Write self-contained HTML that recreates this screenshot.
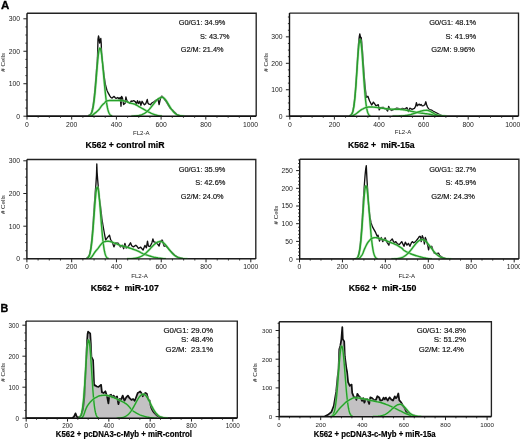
<!DOCTYPE html>
<html><head><meta charset="utf-8"><style>
html,body{margin:0;padding:0;background:#fff;}
svg{display:block;font-family:"Liberation Sans", sans-serif;will-change:transform;}
</style></head><body>
<svg width="520" height="439" viewBox="0 0 520 439">
<rect width="520" height="439" fill="#fff"/>
<clipPath id="clip1"><rect x="27" y="13.2" width="229.2" height="103"/></clipPath>
<g clip-path="url(#clip1)">
<polyline points="27,116.2 88,116.2 89.5,114.85 89.9,114.61 90.3,114.28 90.7,113.83 91.1,113.24 91.5,112.46 91.9,111.09 92.3,109.45 92.7,107.5 93.1,105.22 93.5,102.55 93.9,99.47 94.3,95.98 94.7,92.08 95.1,87.78 95.5,83.12 95.9,78.16 96.3,72.98 96.7,67.69 97.1,62.45 97.5,57.41 98,39 98.5,36 99,38 99.6,43 100.2,40 100.8,38.5 101.2,43 101.5,51 102.1,58 102.8,65 103.5,70.5 104.4,78 105.6,85.5 107,90.5 108.3,93.2 109.8,95.8 110.9,97.5 112.1,98.1 113.2,97 114.1,96.4 115,97.5 116.1,98.4 117.8,97.5 119,99 120.2,97.5 121,106.2 121.6,96.4 122.5,98.1 123.6,104.5 125.1,103.3 125.9,97 126.8,100.4 128.2,102.2 129.7,103.3 131.1,101 132,101.3 133.7,100.7 135.5,101.8 136.3,104.7 137.5,100.7 138.6,103.6 139.8,101.3 140.9,105.3 142.1,101.3 143.5,103.6 144.4,104.7 145.8,103.6 147.3,99.5 147.9,103 149,104.2 150.5,104.7 151.9,103 153.9,101.8 156.2,100.1 158,99 159.1,104.5 160.3,99 161.4,96.6 162,96.1 163.3,97.7 164.6,99.6 166.5,102.1 168.4,105.3 170.3,108.5 172.2,109.8 174.1,111.7 176.7,114.3 179.3,115.5 181.5,116.2 256,116.2" fill="none" stroke="#111" stroke-width="1.35" stroke-linejoin="round"/>
<polyline points="88.51,115.99 88.81,115.92 89.11,115.82 89.41,115.69 89.71,115.53 90.01,115.33 90.31,115.07 90.61,114.74 90.91,114.34 91.21,113.84 91.51,113.24 91.81,112.51 92.11,111.63 92.41,110.6 92.71,109.38 93.01,107.97 93.31,106.35 93.61,104.5 93.91,102.41 94.21,100.08 94.51,97.51 94.81,94.7 95.11,91.66 95.41,88.42 95.71,85 96.01,81.45 96.31,77.79 96.61,74.09 96.91,70.41 97.21,66.79 97.51,63.32 97.81,60.06 98.11,57.07 98.41,54.42 98.71,52.17 99.01,50.36 99.31,49.05 99.61,48.26 99.91,48 100.21,48.24 100.51,48.92 100.81,50.03 101.11,51.55 101.41,53.45 101.71,55.69 102.01,58.23 102.31,61.04 102.61,64.05 102.91,67.21 103.21,70.49 103.51,73.83 103.81,77.18 104.11,80.5 104.41,83.75 104.71,86.9 105.01,89.92 105.31,92.78 105.61,95.47 105.91,97.97 106.21,100.27 106.51,102.37 106.81,104.28 107.11,105.99 107.41,107.51 107.71,108.85 108.01,110.03 108.31,111.05 108.61,111.93 108.91,112.68 109.21,113.32 109.51,113.86 109.81,114.31 110.11,114.69 110.41,114.99 110.71,115.24 111.01,115.45 111.31,115.61 111.61,115.74 111.91,115.85 112.21,115.93" fill="none" stroke="#9fe29f" stroke-width="2.6500000000000004" stroke-opacity="0.55" stroke-linejoin="round"/>
<polyline points="88.51,115.99 88.81,115.92 89.11,115.82 89.41,115.69 89.71,115.53 90.01,115.33 90.31,115.07 90.61,114.74 90.91,114.34 91.21,113.84 91.51,113.24 91.81,112.51 92.11,111.63 92.41,110.6 92.71,109.38 93.01,107.97 93.31,106.35 93.61,104.5 93.91,102.41 94.21,100.08 94.51,97.51 94.81,94.7 95.11,91.66 95.41,88.42 95.71,85 96.01,81.45 96.31,77.79 96.61,74.09 96.91,70.41 97.21,66.79 97.51,63.32 97.81,60.06 98.11,57.07 98.41,54.42 98.71,52.17 99.01,50.36 99.31,49.05 99.61,48.26 99.91,48 100.21,48.24 100.51,48.92 100.81,50.03 101.11,51.55 101.41,53.45 101.71,55.69 102.01,58.23 102.31,61.04 102.61,64.05 102.91,67.21 103.21,70.49 103.51,73.83 103.81,77.18 104.11,80.5 104.41,83.75 104.71,86.9 105.01,89.92 105.31,92.78 105.61,95.47 105.91,97.97 106.21,100.27 106.51,102.37 106.81,104.28 107.11,105.99 107.41,107.51 107.71,108.85 108.01,110.03 108.31,111.05 108.61,111.93 108.91,112.68 109.21,113.32 109.51,113.86 109.81,114.31 110.11,114.69 110.41,114.99 110.71,115.24 111.01,115.45 111.31,115.61 111.61,115.74 111.91,115.85 112.21,115.93" fill="none" stroke="#26a02a" stroke-width="1.4" stroke-linejoin="round"/>
<polyline points="91.5,116.2 91.69,116.02 91.95,115.78 92.25,115.5 92.59,115.18 92.95,114.85 93.31,114.51 93.67,114.19 94,113.9 94.32,113.63 94.64,113.37 94.97,113.12 95.29,112.87 95.62,112.62 95.95,112.36 96.27,112.09 96.6,111.8 96.92,111.51 97.25,111.21 97.57,110.91 97.89,110.6 98.22,110.28 98.54,109.94 98.87,109.58 99.2,109.2 99.53,108.78 99.87,108.33 100.21,107.84 100.55,107.35 100.89,106.86 101.23,106.37 101.57,105.92 101.9,105.5 102.24,105.12 102.58,104.75 102.93,104.4 103.28,104.07 103.61,103.75 103.93,103.45 104.23,103.17 104.5,102.9 104.74,102.64 104.95,102.4 105.14,102.18 105.31,101.97 105.48,101.78 105.64,101.6 105.82,101.44 106,101.3 106.19,101.18 106.38,101.09 106.57,101.02 106.76,100.97 106.96,100.92 107.16,100.89 107.38,100.85 107.6,100.8 107.82,100.75 108.04,100.7 108.25,100.66 108.48,100.62 108.73,100.58 109.01,100.55 109.33,100.52 109.7,100.5 110.11,100.49 110.55,100.48 111.02,100.48 111.53,100.48 112.07,100.49 112.66,100.49 113.3,100.5 114,100.5 114.79,100.49 115.67,100.48 116.63,100.46 117.62,100.44 118.62,100.43 119.59,100.43 120.49,100.45 121.3,100.5 122.02,100.57 122.67,100.67 123.28,100.78 123.86,100.91 124.4,101.04 124.94,101.19 125.46,101.34 126,101.5 126.53,101.67 127.05,101.85 127.55,102.05 128.04,102.25 128.53,102.45 129.02,102.65 129.5,102.83 130,103 130.5,103.14 131,103.26 131.5,103.37 132,103.47 132.5,103.57 133,103.69 133.5,103.83 134,104 134.5,104.2 135,104.42 135.5,104.66 136,104.92 136.5,105.18 137,105.46 137.5,105.73 138,106 138.49,106.27 138.98,106.54 139.46,106.82 139.94,107.1 140.43,107.39 140.93,107.68 141.45,107.99 142,108.3 142.58,108.63 143.18,108.97 143.8,109.33 144.44,109.69 145.08,110.05 145.73,110.41 146.37,110.76 147,111.1 147.62,111.43 148.25,111.76 148.88,112.09 149.5,112.42 150.12,112.73 150.75,113.04 151.38,113.33 152,113.6 152.62,113.86 153.25,114.1 153.88,114.33 154.5,114.55 155.12,114.76 155.75,114.95 156.38,115.13 157,115.3 157.66,115.46 158.37,115.6 159.09,115.74 159.81,115.86 160.49,115.96 161.1,116.06 161.61,116.14 162,116.2" fill="none" stroke="#9fe29f" stroke-width="2.6500000000000004" stroke-opacity="0.55" stroke-linejoin="round"/>
<polyline points="91.5,116.2 91.69,116.02 91.95,115.78 92.25,115.5 92.59,115.18 92.95,114.85 93.31,114.51 93.67,114.19 94,113.9 94.32,113.63 94.64,113.37 94.97,113.12 95.29,112.87 95.62,112.62 95.95,112.36 96.27,112.09 96.6,111.8 96.92,111.51 97.25,111.21 97.57,110.91 97.89,110.6 98.22,110.28 98.54,109.94 98.87,109.58 99.2,109.2 99.53,108.78 99.87,108.33 100.21,107.84 100.55,107.35 100.89,106.86 101.23,106.37 101.57,105.92 101.9,105.5 102.24,105.12 102.58,104.75 102.93,104.4 103.28,104.07 103.61,103.75 103.93,103.45 104.23,103.17 104.5,102.9 104.74,102.64 104.95,102.4 105.14,102.18 105.31,101.97 105.48,101.78 105.64,101.6 105.82,101.44 106,101.3 106.19,101.18 106.38,101.09 106.57,101.02 106.76,100.97 106.96,100.92 107.16,100.89 107.38,100.85 107.6,100.8 107.82,100.75 108.04,100.7 108.25,100.66 108.48,100.62 108.73,100.58 109.01,100.55 109.33,100.52 109.7,100.5 110.11,100.49 110.55,100.48 111.02,100.48 111.53,100.48 112.07,100.49 112.66,100.49 113.3,100.5 114,100.5 114.79,100.49 115.67,100.48 116.63,100.46 117.62,100.44 118.62,100.43 119.59,100.43 120.49,100.45 121.3,100.5 122.02,100.57 122.67,100.67 123.28,100.78 123.86,100.91 124.4,101.04 124.94,101.19 125.46,101.34 126,101.5 126.53,101.67 127.05,101.85 127.55,102.05 128.04,102.25 128.53,102.45 129.02,102.65 129.5,102.83 130,103 130.5,103.14 131,103.26 131.5,103.37 132,103.47 132.5,103.57 133,103.69 133.5,103.83 134,104 134.5,104.2 135,104.42 135.5,104.66 136,104.92 136.5,105.18 137,105.46 137.5,105.73 138,106 138.49,106.27 138.98,106.54 139.46,106.82 139.94,107.1 140.43,107.39 140.93,107.68 141.45,107.99 142,108.3 142.58,108.63 143.18,108.97 143.8,109.33 144.44,109.69 145.08,110.05 145.73,110.41 146.37,110.76 147,111.1 147.62,111.43 148.25,111.76 148.88,112.09 149.5,112.42 150.12,112.73 150.75,113.04 151.38,113.33 152,113.6 152.62,113.86 153.25,114.1 153.88,114.33 154.5,114.55 155.12,114.76 155.75,114.95 156.38,115.13 157,115.3 157.66,115.46 158.37,115.6 159.09,115.74 159.81,115.86 160.49,115.96 161.1,116.06 161.61,116.14 162,116.2" fill="none" stroke="#26a02a" stroke-width="1.4" stroke-linejoin="round"/>
<polyline points="131.4,116.14 131.9,116.13 132.4,116.12 132.9,116.1 133.4,116.08 133.9,116.06 134.4,116.03 134.9,116 135.4,115.96 135.9,115.92 136.4,115.87 136.9,115.81 137.4,115.75 137.9,115.68 138.4,115.59 138.9,115.5 139.4,115.39 139.9,115.27 140.4,115.14 140.9,114.99 141.4,114.82 141.9,114.64 142.4,114.44 142.9,114.21 143.4,113.97 143.9,113.7 144.4,113.41 144.9,113.09 145.4,112.75 145.9,112.38 146.4,111.99 146.9,111.57 147.4,111.13 147.9,110.66 148.4,110.17 148.9,109.65 149.4,109.11 149.9,108.54 150.4,107.96 150.9,107.37 151.4,106.75 151.9,106.13 152.4,105.5 152.9,104.86 153.4,104.23 153.9,103.59 154.4,102.97 154.9,102.35 155.4,101.76 155.9,101.18 156.4,100.63 156.9,100.1 157.4,99.61 157.9,99.16 158.4,98.75 158.9,98.39 159.4,98.07 159.9,97.81 160.4,97.6 160.9,97.44 161.4,97.34 161.9,97.3 162.4,97.33 162.9,97.47 163.4,97.71 163.9,98.04 164.4,98.47 164.9,98.99 165.4,99.58 165.9,100.25 166.4,100.97 166.9,101.74 167.4,102.54 167.9,103.37 168.4,104.22 168.9,105.08 169.4,105.93 169.9,106.77 170.4,107.59 170.9,108.38 171.4,109.14 171.9,109.86 172.4,110.53 172.9,111.17 173.4,111.76 173.9,112.3 174.4,112.79 174.9,113.24 175.4,113.64 175.9,114 176.4,114.32 176.9,114.61 177.4,114.85 177.9,115.07 178.4,115.26 178.9,115.41 179.4,115.55 179.9,115.67 180.4,115.76 180.9,115.85 181.4,115.91 181.9,115.97 182.4,116.02 182.9,116.05 183.4,116.08 183.9,116.11 184.4,116.13" fill="none" stroke="#9fe29f" stroke-width="2.6500000000000004" stroke-opacity="0.55" stroke-linejoin="round"/>
<polyline points="131.4,116.14 131.9,116.13 132.4,116.12 132.9,116.1 133.4,116.08 133.9,116.06 134.4,116.03 134.9,116 135.4,115.96 135.9,115.92 136.4,115.87 136.9,115.81 137.4,115.75 137.9,115.68 138.4,115.59 138.9,115.5 139.4,115.39 139.9,115.27 140.4,115.14 140.9,114.99 141.4,114.82 141.9,114.64 142.4,114.44 142.9,114.21 143.4,113.97 143.9,113.7 144.4,113.41 144.9,113.09 145.4,112.75 145.9,112.38 146.4,111.99 146.9,111.57 147.4,111.13 147.9,110.66 148.4,110.17 148.9,109.65 149.4,109.11 149.9,108.54 150.4,107.96 150.9,107.37 151.4,106.75 151.9,106.13 152.4,105.5 152.9,104.86 153.4,104.23 153.9,103.59 154.4,102.97 154.9,102.35 155.4,101.76 155.9,101.18 156.4,100.63 156.9,100.1 157.4,99.61 157.9,99.16 158.4,98.75 158.9,98.39 159.4,98.07 159.9,97.81 160.4,97.6 160.9,97.44 161.4,97.34 161.9,97.3 162.4,97.33 162.9,97.47 163.4,97.71 163.9,98.04 164.4,98.47 164.9,98.99 165.4,99.58 165.9,100.25 166.4,100.97 166.9,101.74 167.4,102.54 167.9,103.37 168.4,104.22 168.9,105.08 169.4,105.93 169.9,106.77 170.4,107.59 170.9,108.38 171.4,109.14 171.9,109.86 172.4,110.53 172.9,111.17 173.4,111.76 173.9,112.3 174.4,112.79 174.9,113.24 175.4,113.64 175.9,114 176.4,114.32 176.9,114.61 177.4,114.85 177.9,115.07 178.4,115.26 178.9,115.41 179.4,115.55 179.9,115.67 180.4,115.76 180.9,115.85 181.4,115.91 181.9,115.97 182.4,116.02 182.9,116.05 183.4,116.08 183.9,116.11 184.4,116.13" fill="none" stroke="#26a02a" stroke-width="1.4" stroke-linejoin="round"/>
</g>
<path d="M27,13.2 H256.2 V116.2" fill="none" stroke="#222" stroke-width="1.35"/>
<path d="M27,13.2 V116.2 H256.2" fill="none" stroke="#111" stroke-width="1.4"/>
<line x1="23.4" y1="116.2" x2="27" y2="116.2" stroke="#222" stroke-width="1"/>
<line x1="25.4" y1="108.08" x2="27" y2="108.08" stroke="#222" stroke-width="0.9"/>
<line x1="25.4" y1="99.97" x2="27" y2="99.97" stroke="#222" stroke-width="0.9"/>
<line x1="25.4" y1="91.85" x2="27" y2="91.85" stroke="#222" stroke-width="0.9"/>
<line x1="23.4" y1="83.73" x2="27" y2="83.73" stroke="#222" stroke-width="1"/>
<line x1="25.4" y1="75.61" x2="27" y2="75.61" stroke="#222" stroke-width="0.9"/>
<line x1="25.4" y1="67.5" x2="27" y2="67.5" stroke="#222" stroke-width="0.9"/>
<line x1="25.4" y1="59.38" x2="27" y2="59.38" stroke="#222" stroke-width="0.9"/>
<line x1="23.4" y1="51.26" x2="27" y2="51.26" stroke="#222" stroke-width="1"/>
<line x1="25.4" y1="43.14" x2="27" y2="43.14" stroke="#222" stroke-width="0.9"/>
<line x1="25.4" y1="35.03" x2="27" y2="35.03" stroke="#222" stroke-width="0.9"/>
<line x1="25.4" y1="26.91" x2="27" y2="26.91" stroke="#222" stroke-width="0.9"/>
<line x1="23.4" y1="18.79" x2="27" y2="18.79" stroke="#222" stroke-width="1"/>
<text x="20.1" y="118.6" font-size="6.8" text-anchor="end" fill="#222">0</text>
<text x="20.1" y="86.13" font-size="6.8" text-anchor="end" fill="#222">100</text>
<text x="20.1" y="53.66" font-size="6.8" text-anchor="end" fill="#222">200</text>
<text x="20.1" y="21.19" font-size="6.8" text-anchor="end" fill="#222">300</text>
<line x1="27" y1="116.2" x2="27" y2="119.6" stroke="#222" stroke-width="1"/>
<text x="27" y="127.1" font-size="6.8" text-anchor="middle" fill="#222">0</text>
<line x1="38.17" y1="116.2" x2="38.17" y2="117.8" stroke="#222" stroke-width="0.9"/>
<line x1="49.35" y1="116.2" x2="49.35" y2="117.8" stroke="#222" stroke-width="0.9"/>
<line x1="60.52" y1="116.2" x2="60.52" y2="117.8" stroke="#222" stroke-width="0.9"/>
<line x1="71.7" y1="116.2" x2="71.7" y2="119.6" stroke="#222" stroke-width="1"/>
<text x="71.7" y="127.1" font-size="6.8" text-anchor="middle" fill="#222">200</text>
<line x1="82.88" y1="116.2" x2="82.88" y2="117.8" stroke="#222" stroke-width="0.9"/>
<line x1="94.05" y1="116.2" x2="94.05" y2="117.8" stroke="#222" stroke-width="0.9"/>
<line x1="105.22" y1="116.2" x2="105.22" y2="117.8" stroke="#222" stroke-width="0.9"/>
<line x1="116.4" y1="116.2" x2="116.4" y2="119.6" stroke="#222" stroke-width="1"/>
<text x="116.4" y="127.1" font-size="6.8" text-anchor="middle" fill="#222">400</text>
<line x1="127.58" y1="116.2" x2="127.58" y2="117.8" stroke="#222" stroke-width="0.9"/>
<line x1="138.75" y1="116.2" x2="138.75" y2="117.8" stroke="#222" stroke-width="0.9"/>
<line x1="149.93" y1="116.2" x2="149.93" y2="117.8" stroke="#222" stroke-width="0.9"/>
<line x1="161.1" y1="116.2" x2="161.1" y2="119.6" stroke="#222" stroke-width="1"/>
<text x="161.1" y="127.1" font-size="6.8" text-anchor="middle" fill="#222">600</text>
<line x1="172.28" y1="116.2" x2="172.28" y2="117.8" stroke="#222" stroke-width="0.9"/>
<line x1="183.45" y1="116.2" x2="183.45" y2="117.8" stroke="#222" stroke-width="0.9"/>
<line x1="194.62" y1="116.2" x2="194.62" y2="117.8" stroke="#222" stroke-width="0.9"/>
<line x1="205.8" y1="116.2" x2="205.8" y2="119.6" stroke="#222" stroke-width="1"/>
<text x="205.8" y="127.1" font-size="6.8" text-anchor="middle" fill="#222">800</text>
<line x1="216.97" y1="116.2" x2="216.97" y2="117.8" stroke="#222" stroke-width="0.9"/>
<line x1="228.15" y1="116.2" x2="228.15" y2="117.8" stroke="#222" stroke-width="0.9"/>
<line x1="239.32" y1="116.2" x2="239.32" y2="117.8" stroke="#222" stroke-width="0.9"/>
<line x1="250.5" y1="116.2" x2="250.5" y2="119.6" stroke="#222" stroke-width="1"/>
<text x="250.5" y="127.1" font-size="6.8" text-anchor="middle" fill="#222">1000</text>
<text x="178.7" y="25" font-size="8" textLength="46.7" lengthAdjust="spacingAndGlyphs" fill="#111" stroke="#111" stroke-width="0.18" xml:space="preserve" style="white-space:pre">G0/G1: 34.9%</text>
<text x="200" y="38.5" font-size="8" textLength="29.6" lengthAdjust="spacingAndGlyphs" fill="#111" stroke="#111" stroke-width="0.18" xml:space="preserve" style="white-space:pre">S: 43.7%</text>
<text x="180.8" y="51.7" font-size="8" textLength="42.7" lengthAdjust="spacingAndGlyphs" fill="#111" stroke="#111" stroke-width="0.18" xml:space="preserve" style="white-space:pre">G2/M: 21.4%</text>
<text x="85.4" y="147.5" font-size="8.8" font-weight="bold" textLength="79.2" lengthAdjust="spacingAndGlyphs" fill="#000" stroke="#000" stroke-width="0.2" xml:space="preserve" style="white-space:pre">K562 + control miR</text>
<text x="141.3" y="135.1" font-size="6.1" text-anchor="middle" fill="#222">FL2-A</text>
<text transform="translate(5.1,62.3) rotate(-90)" font-size="6.2" text-anchor="middle" fill="#222"><tspan font-weight="bold">#</tspan> Cells</text>
<clipPath id="clip2"><rect x="289.5" y="13.1" width="229" height="103.1"/></clipPath>
<g clip-path="url(#clip2)">
<polyline points="290,116.2 349,116.2 350.5,115.16 350.9,114.89 351.3,114.51 351.7,113.97 352.1,113.18 352.5,111.97 352.9,110.46 353.3,108.57 353.7,106.24 354.1,103.42 354.5,100.04 354.9,96.08 355.3,91.53 355.7,86.41 356.1,80.77 356.5,74.72 356.9,68.39 357.3,61.98 357.7,55.71 358.1,49.79 358.5,44.48 358.9,40.01 359.3,36.57 359.8,34 360.3,36.5 360.8,42.5 361.2,37.52 361.6,41.08 362,45.51 362.4,50.61 362.8,56.16 363.2,61.93 363.6,67.7 364,73.29 364.4,78.54 364.8,83.35 365.2,87.66 365.6,91.43 366,94.66 366.4,97.36 367.9,96.3 369.5,100.7 371.7,105 373.4,102.1 374.9,104.1 376,105.8 378.3,104.7 379.2,109.9 380.7,107.6 383,107.3 384.7,108.7 386.4,109.3 387.6,111 388.7,106.4 389.9,109.3 391.6,110.5 393.9,109.3 396.8,108.2 399.1,108.7 400.2,109.3 402.3,108.4 404.6,109 406.9,107.6 408.4,111.6 409.8,108.2 412.1,109.3 414.4,108.4 415.6,106.4 416.4,102.7 417.3,105.8 419.3,104.1 420.2,105.3 421.1,104.4 422.2,105.8 423.7,105.6 424.8,104.7 425.8,101.8 426.6,104.7 427.5,107 428.7,109 430.1,109.6 431.5,110.1 433.3,111.3 435,112.2 437.3,113.3 439.6,114.5 441.9,115.6 444.2,116 446,116.2 518,116.2" fill="none" stroke="#111" stroke-width="1.35" stroke-linejoin="round"/>
<polyline points="349.73,115.96 350.03,115.87 350.33,115.75 350.63,115.58 350.93,115.36 351.23,115.08 351.53,114.72 351.83,114.26 352.13,113.68 352.43,112.95 352.73,112.06 353.03,110.98 353.33,109.67 353.63,108.12 353.93,106.29 354.23,104.16 354.53,101.73 354.83,98.96 355.13,95.87 355.43,92.45 355.73,88.72 356.03,84.71 356.33,80.47 356.63,76.05 356.93,71.51 357.23,66.94 357.53,62.42 357.83,58.06 358.13,53.94 358.43,50.18 358.73,46.86 359.03,44.08 359.33,41.91 359.63,40.41 359.93,39.62 360.23,39.57 360.53,40.23 360.83,41.6 361.13,43.62 361.43,46.24 361.73,49.4 362.03,53.01 362.33,56.99 362.63,61.23 362.93,65.64 363.23,70.13 363.53,74.61 363.83,79.01 364.13,83.25 364.43,87.28 364.73,91.06 365.03,94.54 365.33,97.72 365.63,100.58 365.93,103.11 366.23,105.34 366.53,107.28 366.83,108.93 367.13,110.34 367.43,111.51 367.73,112.49 368.03,113.29 368.33,113.94 368.63,114.46 368.93,114.87 369.23,115.2 369.53,115.45 369.83,115.64 370.13,115.79 370.43,115.9" fill="none" stroke="#9fe29f" stroke-width="2.6500000000000004" stroke-opacity="0.55" stroke-linejoin="round"/>
<polyline points="349.73,115.96 350.03,115.87 350.33,115.75 350.63,115.58 350.93,115.36 351.23,115.08 351.53,114.72 351.83,114.26 352.13,113.68 352.43,112.95 352.73,112.06 353.03,110.98 353.33,109.67 353.63,108.12 353.93,106.29 354.23,104.16 354.53,101.73 354.83,98.96 355.13,95.87 355.43,92.45 355.73,88.72 356.03,84.71 356.33,80.47 356.63,76.05 356.93,71.51 357.23,66.94 357.53,62.42 357.83,58.06 358.13,53.94 358.43,50.18 358.73,46.86 359.03,44.08 359.33,41.91 359.63,40.41 359.93,39.62 360.23,39.57 360.53,40.23 360.83,41.6 361.13,43.62 361.43,46.24 361.73,49.4 362.03,53.01 362.33,56.99 362.63,61.23 362.93,65.64 363.23,70.13 363.53,74.61 363.83,79.01 364.13,83.25 364.43,87.28 364.73,91.06 365.03,94.54 365.33,97.72 365.63,100.58 365.93,103.11 366.23,105.34 366.53,107.28 366.83,108.93 367.13,110.34 367.43,111.51 367.73,112.49 368.03,113.29 368.33,113.94 368.63,114.46 368.93,114.87 369.23,115.2 369.53,115.45 369.83,115.64 370.13,115.79 370.43,115.9" fill="none" stroke="#26a02a" stroke-width="1.4" stroke-linejoin="round"/>
<polyline points="352,116.2 352.31,116.02 352.71,115.79 353.2,115.52 353.74,115.21 354.31,114.87 354.89,114.52 355.46,114.16 356,113.8 356.52,113.42 357.06,113.01 357.6,112.57 358.14,112.12 358.68,111.67 359.21,111.25 359.72,110.85 360.2,110.5 360.66,110.19 361.09,109.91 361.5,109.66 361.91,109.43 362.3,109.21 362.7,109 363.09,108.8 363.5,108.6 363.9,108.4 364.28,108.21 364.65,108.02 365.03,107.85 365.42,107.69 365.84,107.54 366.3,107.41 366.8,107.3 367.35,107.21 367.95,107.13 368.58,107.07 369.24,107.03 369.92,107 370.61,106.99 371.31,106.99 372,107 372.7,107.03 373.41,107.08 374.14,107.15 374.87,107.23 375.61,107.32 376.34,107.41 377.08,107.51 377.8,107.6 378.52,107.69 379.23,107.79 379.94,107.89 380.65,108 381.36,108.11 382.07,108.21 382.78,108.31 383.5,108.4 384.22,108.49 384.95,108.57 385.67,108.65 386.4,108.73 387.13,108.81 387.85,108.88 388.58,108.94 389.3,109 390.02,109.05 390.75,109.1 391.48,109.14 392.2,109.18 392.92,109.22 393.63,109.25 394.32,109.27 395,109.3 395.66,109.32 396.3,109.33 396.93,109.33 397.54,109.33 398.16,109.33 398.77,109.34 399.38,109.36 400,109.4 400.63,109.45 401.26,109.51 401.89,109.58 402.53,109.65 403.15,109.73 403.78,109.82 404.39,109.91 405,110 405.58,110.1 406.14,110.19 406.68,110.3 407.22,110.41 407.78,110.52 408.35,110.64 408.95,110.77 409.6,110.9 410.3,111.05 411.04,111.2 411.81,111.37 412.61,111.54 413.41,111.72 414.22,111.89 415.02,112.05 415.8,112.2 416.57,112.34 417.33,112.48 418.09,112.61 418.85,112.73 419.61,112.85 420.37,112.97 421.13,113.09 421.9,113.2 422.67,113.31 423.45,113.41 424.22,113.5 425,113.59 425.78,113.69 426.55,113.78 427.33,113.89 428.1,114 428.87,114.12 429.63,114.26 430.39,114.4 431.15,114.54 431.91,114.69 432.67,114.83 433.43,114.97 434.2,115.1 434.98,115.23 435.78,115.36 436.59,115.48 437.39,115.61 438.19,115.72 438.96,115.83 439.7,115.92 440.4,116 441.08,116.06 441.77,116.1 442.44,116.14 443.09,116.16 443.68,116.17 444.21,116.18 444.66,116.19 445,116.2" fill="none" stroke="#9fe29f" stroke-width="2.6500000000000004" stroke-opacity="0.55" stroke-linejoin="round"/>
<polyline points="352,116.2 352.31,116.02 352.71,115.79 353.2,115.52 353.74,115.21 354.31,114.87 354.89,114.52 355.46,114.16 356,113.8 356.52,113.42 357.06,113.01 357.6,112.57 358.14,112.12 358.68,111.67 359.21,111.25 359.72,110.85 360.2,110.5 360.66,110.19 361.09,109.91 361.5,109.66 361.91,109.43 362.3,109.21 362.7,109 363.09,108.8 363.5,108.6 363.9,108.4 364.28,108.21 364.65,108.02 365.03,107.85 365.42,107.69 365.84,107.54 366.3,107.41 366.8,107.3 367.35,107.21 367.95,107.13 368.58,107.07 369.24,107.03 369.92,107 370.61,106.99 371.31,106.99 372,107 372.7,107.03 373.41,107.08 374.14,107.15 374.87,107.23 375.61,107.32 376.34,107.41 377.08,107.51 377.8,107.6 378.52,107.69 379.23,107.79 379.94,107.89 380.65,108 381.36,108.11 382.07,108.21 382.78,108.31 383.5,108.4 384.22,108.49 384.95,108.57 385.67,108.65 386.4,108.73 387.13,108.81 387.85,108.88 388.58,108.94 389.3,109 390.02,109.05 390.75,109.1 391.48,109.14 392.2,109.18 392.92,109.22 393.63,109.25 394.32,109.27 395,109.3 395.66,109.32 396.3,109.33 396.93,109.33 397.54,109.33 398.16,109.33 398.77,109.34 399.38,109.36 400,109.4 400.63,109.45 401.26,109.51 401.89,109.58 402.53,109.65 403.15,109.73 403.78,109.82 404.39,109.91 405,110 405.58,110.1 406.14,110.19 406.68,110.3 407.22,110.41 407.78,110.52 408.35,110.64 408.95,110.77 409.6,110.9 410.3,111.05 411.04,111.2 411.81,111.37 412.61,111.54 413.41,111.72 414.22,111.89 415.02,112.05 415.8,112.2 416.57,112.34 417.33,112.48 418.09,112.61 418.85,112.73 419.61,112.85 420.37,112.97 421.13,113.09 421.9,113.2 422.67,113.31 423.45,113.41 424.22,113.5 425,113.59 425.78,113.69 426.55,113.78 427.33,113.89 428.1,114 428.87,114.12 429.63,114.26 430.39,114.4 431.15,114.54 431.91,114.69 432.67,114.83 433.43,114.97 434.2,115.1 434.98,115.23 435.78,115.36 436.59,115.48 437.39,115.61 438.19,115.72 438.96,115.83 439.7,115.92 440.4,116 441.08,116.06 441.77,116.1 442.44,116.14 443.09,116.16 443.68,116.17 444.21,116.18 444.66,116.19 445,116.2" fill="none" stroke="#26a02a" stroke-width="1.4" stroke-linejoin="round"/>
<polyline points="392.5,116.18 393,116.18 393.5,116.17 394,116.17 394.5,116.16 395,116.16 395.5,116.15 396,116.14 396.5,116.13 397,116.12 397.5,116.11 398,116.1 398.5,116.08 399,116.07 399.5,116.05 400,116.02 400.5,116 401,115.97 401.5,115.94 402,115.91 402.5,115.87 403,115.83 403.5,115.78 404,115.73 404.5,115.68 405,115.62 405.5,115.55 406,115.48 406.5,115.4 407,115.32 407.5,115.23 408,115.13 408.5,115.03 409,114.92 409.5,114.81 410,114.69 410.5,114.56 411,114.43 411.5,114.28 412,114.14 412.5,113.99 413,113.83 413.5,113.67 414,113.5 414.5,113.33 415,113.15 415.5,112.98 416,112.8 416.5,112.62 417,112.44 417.5,112.26 418,112.09 418.5,111.92 419,111.75 419.5,111.58 420,111.42 420.5,111.27 421,111.13 421.5,110.99 422,110.87 422.5,110.75 423,110.65 423.5,110.56 424,110.48 424.5,110.42 425,110.37 425.5,110.33 426,110.31 426.5,110.3 427,110.32 427.5,110.38 428,110.48 428.5,110.62 429,110.79 429.5,110.99 430,111.22 430.5,111.48 431,111.75 431.5,112.03 432,112.32 432.5,112.62 433,112.92 433.5,113.21 434,113.5 434.5,113.77 435,114.04 435.5,114.28 436,114.52 436.5,114.73 437,114.92 437.5,115.1 438,115.26 438.5,115.4 439,115.53 439.5,115.64 440,115.73 440.5,115.81 441,115.88 441.5,115.94 442,115.99 442.5,116.03 443,116.07 443.5,116.09 444,116.12 444.5,116.13 445,116.15 445.5,116.16 446,116.17 446.5,116.18" fill="none" stroke="#9fe29f" stroke-width="2.6500000000000004" stroke-opacity="0.55" stroke-linejoin="round"/>
<polyline points="392.5,116.18 393,116.18 393.5,116.17 394,116.17 394.5,116.16 395,116.16 395.5,116.15 396,116.14 396.5,116.13 397,116.12 397.5,116.11 398,116.1 398.5,116.08 399,116.07 399.5,116.05 400,116.02 400.5,116 401,115.97 401.5,115.94 402,115.91 402.5,115.87 403,115.83 403.5,115.78 404,115.73 404.5,115.68 405,115.62 405.5,115.55 406,115.48 406.5,115.4 407,115.32 407.5,115.23 408,115.13 408.5,115.03 409,114.92 409.5,114.81 410,114.69 410.5,114.56 411,114.43 411.5,114.28 412,114.14 412.5,113.99 413,113.83 413.5,113.67 414,113.5 414.5,113.33 415,113.15 415.5,112.98 416,112.8 416.5,112.62 417,112.44 417.5,112.26 418,112.09 418.5,111.92 419,111.75 419.5,111.58 420,111.42 420.5,111.27 421,111.13 421.5,110.99 422,110.87 422.5,110.75 423,110.65 423.5,110.56 424,110.48 424.5,110.42 425,110.37 425.5,110.33 426,110.31 426.5,110.3 427,110.32 427.5,110.38 428,110.48 428.5,110.62 429,110.79 429.5,110.99 430,111.22 430.5,111.48 431,111.75 431.5,112.03 432,112.32 432.5,112.62 433,112.92 433.5,113.21 434,113.5 434.5,113.77 435,114.04 435.5,114.28 436,114.52 436.5,114.73 437,114.92 437.5,115.1 438,115.26 438.5,115.4 439,115.53 439.5,115.64 440,115.73 440.5,115.81 441,115.88 441.5,115.94 442,115.99 442.5,116.03 443,116.07 443.5,116.09 444,116.12 444.5,116.13 445,116.15 445.5,116.16 446,116.17 446.5,116.18" fill="none" stroke="#26a02a" stroke-width="1.4" stroke-linejoin="round"/>
</g>
<path d="M289.5,13.1 H518.5 V116.2" fill="none" stroke="#222" stroke-width="1.35"/>
<path d="M289.5,13.1 V116.2 H518.5" fill="none" stroke="#111" stroke-width="1.4"/>
<line x1="285.9" y1="116.2" x2="289.5" y2="116.2" stroke="#222" stroke-width="1"/>
<line x1="287.9" y1="109.59" x2="289.5" y2="109.59" stroke="#222" stroke-width="0.9"/>
<line x1="287.9" y1="102.97" x2="289.5" y2="102.97" stroke="#222" stroke-width="0.9"/>
<line x1="287.9" y1="96.36" x2="289.5" y2="96.36" stroke="#222" stroke-width="0.9"/>
<line x1="285.9" y1="89.75" x2="289.5" y2="89.75" stroke="#222" stroke-width="1"/>
<line x1="287.9" y1="83.14" x2="289.5" y2="83.14" stroke="#222" stroke-width="0.9"/>
<line x1="287.9" y1="76.53" x2="289.5" y2="76.53" stroke="#222" stroke-width="0.9"/>
<line x1="287.9" y1="69.91" x2="289.5" y2="69.91" stroke="#222" stroke-width="0.9"/>
<line x1="285.9" y1="63.3" x2="289.5" y2="63.3" stroke="#222" stroke-width="1"/>
<line x1="287.9" y1="56.69" x2="289.5" y2="56.69" stroke="#222" stroke-width="0.9"/>
<line x1="287.9" y1="50.08" x2="289.5" y2="50.08" stroke="#222" stroke-width="0.9"/>
<line x1="287.9" y1="43.46" x2="289.5" y2="43.46" stroke="#222" stroke-width="0.9"/>
<line x1="285.9" y1="36.85" x2="289.5" y2="36.85" stroke="#222" stroke-width="1"/>
<line x1="287.9" y1="30.24" x2="289.5" y2="30.24" stroke="#222" stroke-width="0.9"/>
<line x1="287.9" y1="23.62" x2="289.5" y2="23.62" stroke="#222" stroke-width="0.9"/>
<line x1="287.9" y1="17.01" x2="289.5" y2="17.01" stroke="#222" stroke-width="0.9"/>
<text x="282.6" y="118.6" font-size="6.8" text-anchor="end" fill="#222">0</text>
<text x="282.6" y="92.15" font-size="6.8" text-anchor="end" fill="#222">100</text>
<text x="282.6" y="65.7" font-size="6.8" text-anchor="end" fill="#222">200</text>
<text x="282.6" y="39.25" font-size="6.8" text-anchor="end" fill="#222">300</text>
<line x1="289.8" y1="116.2" x2="289.8" y2="119.6" stroke="#222" stroke-width="1"/>
<text x="289.8" y="127" font-size="6.8" text-anchor="middle" fill="#222">0</text>
<line x1="300.95" y1="116.2" x2="300.95" y2="117.8" stroke="#222" stroke-width="0.9"/>
<line x1="312.1" y1="116.2" x2="312.1" y2="117.8" stroke="#222" stroke-width="0.9"/>
<line x1="323.25" y1="116.2" x2="323.25" y2="117.8" stroke="#222" stroke-width="0.9"/>
<line x1="334.4" y1="116.2" x2="334.4" y2="119.6" stroke="#222" stroke-width="1"/>
<text x="334.4" y="127" font-size="6.8" text-anchor="middle" fill="#222">200</text>
<line x1="345.55" y1="116.2" x2="345.55" y2="117.8" stroke="#222" stroke-width="0.9"/>
<line x1="356.7" y1="116.2" x2="356.7" y2="117.8" stroke="#222" stroke-width="0.9"/>
<line x1="367.85" y1="116.2" x2="367.85" y2="117.8" stroke="#222" stroke-width="0.9"/>
<line x1="379" y1="116.2" x2="379" y2="119.6" stroke="#222" stroke-width="1"/>
<text x="379" y="127" font-size="6.8" text-anchor="middle" fill="#222">400</text>
<line x1="390.15" y1="116.2" x2="390.15" y2="117.8" stroke="#222" stroke-width="0.9"/>
<line x1="401.3" y1="116.2" x2="401.3" y2="117.8" stroke="#222" stroke-width="0.9"/>
<line x1="412.45" y1="116.2" x2="412.45" y2="117.8" stroke="#222" stroke-width="0.9"/>
<line x1="423.6" y1="116.2" x2="423.6" y2="119.6" stroke="#222" stroke-width="1"/>
<text x="423.6" y="127" font-size="6.8" text-anchor="middle" fill="#222">600</text>
<line x1="434.75" y1="116.2" x2="434.75" y2="117.8" stroke="#222" stroke-width="0.9"/>
<line x1="445.9" y1="116.2" x2="445.9" y2="117.8" stroke="#222" stroke-width="0.9"/>
<line x1="457.05" y1="116.2" x2="457.05" y2="117.8" stroke="#222" stroke-width="0.9"/>
<line x1="468.2" y1="116.2" x2="468.2" y2="119.6" stroke="#222" stroke-width="1"/>
<text x="468.2" y="127" font-size="6.8" text-anchor="middle" fill="#222">800</text>
<line x1="479.35" y1="116.2" x2="479.35" y2="117.8" stroke="#222" stroke-width="0.9"/>
<line x1="490.5" y1="116.2" x2="490.5" y2="117.8" stroke="#222" stroke-width="0.9"/>
<line x1="501.65" y1="116.2" x2="501.65" y2="117.8" stroke="#222" stroke-width="0.9"/>
<line x1="512.8" y1="116.2" x2="512.8" y2="119.6" stroke="#222" stroke-width="1"/>
<text x="512.8" y="127" font-size="6.8" text-anchor="middle" fill="#222">1000</text>
<text x="429.2" y="25" font-size="8" textLength="47" lengthAdjust="spacingAndGlyphs" fill="#111" stroke="#111" stroke-width="0.18" xml:space="preserve" style="white-space:pre">G0/G1: 48.1%</text>
<text x="445.6" y="38.5" font-size="8" textLength="30.6" lengthAdjust="spacingAndGlyphs" fill="#111" stroke="#111" stroke-width="0.18" xml:space="preserve" style="white-space:pre">S: 41.9%</text>
<text x="431.2" y="51.7" font-size="8" textLength="43.6" lengthAdjust="spacingAndGlyphs" fill="#111" stroke="#111" stroke-width="0.18" xml:space="preserve" style="white-space:pre">G2/M: 9.96%</text>
<text x="347.9" y="147.5" font-size="8.8" font-weight="bold" textLength="66.7" lengthAdjust="spacingAndGlyphs" fill="#000" stroke="#000" stroke-width="0.2" xml:space="preserve" style="white-space:pre">K562 +  miR-15a</text>
<text x="403" y="133.9" font-size="6.1" text-anchor="middle" fill="#222">FL2-A</text>
<text transform="translate(267.5,62.3) rotate(-90)" font-size="6.2" text-anchor="middle" fill="#222"><tspan font-weight="bold">#</tspan> Cells</text>
<clipPath id="clip3"><rect x="26.9" y="159.5" width="228.9" height="99.4"/></clipPath>
<g clip-path="url(#clip3)">
<polyline points="27,258.9 86,258.9 87.5,257.44 87.9,257.14 88.3,256.72 88.7,256.16 89.1,255.4 89.5,254.41 89.9,252.79 90.3,250.84 90.7,248.49 91.1,245.68 91.5,242.36 91.9,238.51 92.3,234.09 92.7,229.14 93.1,223.72 93.5,217.95 93.9,211.95 94.3,205.89 94.7,199.94 95.1,194.3 95.5,189.18 95.9,184.73 96.5,175 96.8,164 97.1,172 97.6,179 98.2,186 98.9,193 99.5,199 100.3,205 101.2,212 101.8,218 102.9,225 104.3,233 105.7,240.1 107,238.2 108,236.9 109.5,235.1 110.7,239.8 112.1,241.6 113.9,246.9 115.7,242.8 118.1,243.1 120.4,246.9 122.2,245.2 123.7,248.7 124.9,243.4 126.3,248.1 128.4,246.3 130.5,242.8 131.7,245.8 133.4,246.9 135.8,245.2 137.2,246.6 138.4,248.3 140.7,247.2 143.1,250.1 144.9,245.4 146.4,247.8 147.5,241.2 148.4,246 150.2,246.6 152,242.4 152.9,238.9 153.8,241.8 155.5,242.4 157.3,243.6 159.1,246 160.3,241.8 162,240.1 162.5,240.6 163.4,244 164.2,246.2 165.9,246 168.9,249.4 171.8,252.3 174.8,255.3 177.8,257.1 180.7,258 184,258.9 256,258.9" fill="none" stroke="#111" stroke-width="1.35" stroke-linejoin="round"/>
<polyline points="86.42,258.68 86.72,258.6 87.02,258.49 87.32,258.34 87.62,258.16 87.92,257.92 88.22,257.62 88.52,257.23 88.82,256.75 89.12,256.16 89.42,255.43 89.72,254.55 90.02,253.49 90.32,252.24 90.62,250.76 90.92,249.05 91.22,247.07 91.52,244.83 91.82,242.31 92.12,239.5 92.42,236.42 92.72,233.08 93.02,229.51 93.32,225.72 93.62,221.78 93.92,217.74 94.22,213.66 94.52,209.6 94.82,205.65 95.12,201.89 95.42,198.4 95.72,195.25 96.02,192.53 96.32,190.29 96.62,188.61 96.92,187.51 97.22,187.02 97.52,187.15 97.82,187.84 98.12,189.06 98.42,190.8 98.72,193.01 99.02,195.64 99.32,198.63 99.62,201.93 99.92,205.47 100.22,209.18 100.52,212.98 100.82,216.83 101.12,220.65 101.42,224.4 101.72,228.01 102.02,231.47 102.32,234.73 102.62,237.76 102.92,240.56 103.22,243.11 103.52,245.41 103.82,247.47 104.12,249.28 104.42,250.87 104.72,252.25 105.02,253.44 105.32,254.45 105.62,255.3 105.92,256.01 106.22,256.6 106.52,257.08 106.82,257.47 107.12,257.79 107.42,258.04 107.72,258.24 108.02,258.4 108.32,258.52 108.62,258.62" fill="none" stroke="#9fe29f" stroke-width="2.6500000000000004" stroke-opacity="0.55" stroke-linejoin="round"/>
<polyline points="86.42,258.68 86.72,258.6 87.02,258.49 87.32,258.34 87.62,258.16 87.92,257.92 88.22,257.62 88.52,257.23 88.82,256.75 89.12,256.16 89.42,255.43 89.72,254.55 90.02,253.49 90.32,252.24 90.62,250.76 90.92,249.05 91.22,247.07 91.52,244.83 91.82,242.31 92.12,239.5 92.42,236.42 92.72,233.08 93.02,229.51 93.32,225.72 93.62,221.78 93.92,217.74 94.22,213.66 94.52,209.6 94.82,205.65 95.12,201.89 95.42,198.4 95.72,195.25 96.02,192.53 96.32,190.29 96.62,188.61 96.92,187.51 97.22,187.02 97.52,187.15 97.82,187.84 98.12,189.06 98.42,190.8 98.72,193.01 99.02,195.64 99.32,198.63 99.62,201.93 99.92,205.47 100.22,209.18 100.52,212.98 100.82,216.83 101.12,220.65 101.42,224.4 101.72,228.01 102.02,231.47 102.32,234.73 102.62,237.76 102.92,240.56 103.22,243.11 103.52,245.41 103.82,247.47 104.12,249.28 104.42,250.87 104.72,252.25 105.02,253.44 105.32,254.45 105.62,255.3 105.92,256.01 106.22,256.6 106.52,257.08 106.82,257.47 107.12,257.79 107.42,258.04 107.72,258.24 108.02,258.4 108.32,258.52 108.62,258.62" fill="none" stroke="#26a02a" stroke-width="1.4" stroke-linejoin="round"/>
<polyline points="89.5,258.9 89.69,258.73 89.94,258.52 90.23,258.27 90.56,257.98 90.92,257.66 91.28,257.3 91.65,256.92 92,256.5 92.35,256.03 92.71,255.5 93.09,254.93 93.47,254.32 93.85,253.71 94.24,253.11 94.62,252.53 95,252 95.38,251.51 95.76,251.03 96.15,250.58 96.53,250.13 96.91,249.7 97.29,249.26 97.65,248.83 98,248.4 98.34,247.96 98.66,247.52 98.97,247.08 99.27,246.64 99.58,246.21 99.88,245.8 100.19,245.39 100.5,245 100.82,244.62 101.14,244.23 101.45,243.86 101.78,243.49 102.1,243.15 102.43,242.83 102.76,242.55 103.1,242.3 103.44,242.1 103.79,241.93 104.14,241.79 104.49,241.68 104.86,241.59 105.23,241.52 105.61,241.46 106,241.4 106.4,241.35 106.81,241.3 107.23,241.27 107.66,241.26 108.1,241.26 108.55,241.28 109.02,241.33 109.5,241.4 110,241.5 110.5,241.63 111.02,241.78 111.55,241.95 112.1,242.14 112.67,242.35 113.27,242.57 113.9,242.8 114.57,243.06 115.27,243.35 116,243.66 116.75,243.98 117.51,244.31 118.28,244.63 119.05,244.93 119.8,245.2 120.55,245.45 121.3,245.67 122.05,245.88 122.8,246.09 123.55,246.29 124.3,246.48 125.05,246.69 125.8,246.9 126.54,247.12 127.27,247.33 128,247.54 128.73,247.76 129.46,247.98 130.2,248.21 130.94,248.45 131.7,248.7 132.48,248.97 133.28,249.25 134.09,249.55 134.9,249.85 135.71,250.16 136.5,250.47 137.27,250.79 138,251.1 138.69,251.42 139.35,251.75 139.99,252.09 140.61,252.43 141.22,252.77 141.83,253.09 142.46,253.41 143.1,253.7 143.76,253.97 144.43,254.23 145.1,254.48 145.77,254.71 146.45,254.94 147.14,255.16 147.82,255.38 148.5,255.6 149.18,255.82 149.84,256.03 150.51,256.24 151.17,256.45 151.85,256.65 152.55,256.84 153.26,257.03 154,257.2 154.78,257.36 155.6,257.52 156.45,257.67 157.31,257.81 158.16,257.95 159.01,258.07 159.82,258.19 160.6,258.3 161.37,258.4 162.16,258.5 162.95,258.59 163.71,258.67 164.42,258.74 165.06,258.8 165.59,258.86 166,258.9" fill="none" stroke="#9fe29f" stroke-width="2.6500000000000004" stroke-opacity="0.55" stroke-linejoin="round"/>
<polyline points="89.5,258.9 89.69,258.73 89.94,258.52 90.23,258.27 90.56,257.98 90.92,257.66 91.28,257.3 91.65,256.92 92,256.5 92.35,256.03 92.71,255.5 93.09,254.93 93.47,254.32 93.85,253.71 94.24,253.11 94.62,252.53 95,252 95.38,251.51 95.76,251.03 96.15,250.58 96.53,250.13 96.91,249.7 97.29,249.26 97.65,248.83 98,248.4 98.34,247.96 98.66,247.52 98.97,247.08 99.27,246.64 99.58,246.21 99.88,245.8 100.19,245.39 100.5,245 100.82,244.62 101.14,244.23 101.45,243.86 101.78,243.49 102.1,243.15 102.43,242.83 102.76,242.55 103.1,242.3 103.44,242.1 103.79,241.93 104.14,241.79 104.49,241.68 104.86,241.59 105.23,241.52 105.61,241.46 106,241.4 106.4,241.35 106.81,241.3 107.23,241.27 107.66,241.26 108.1,241.26 108.55,241.28 109.02,241.33 109.5,241.4 110,241.5 110.5,241.63 111.02,241.78 111.55,241.95 112.1,242.14 112.67,242.35 113.27,242.57 113.9,242.8 114.57,243.06 115.27,243.35 116,243.66 116.75,243.98 117.51,244.31 118.28,244.63 119.05,244.93 119.8,245.2 120.55,245.45 121.3,245.67 122.05,245.88 122.8,246.09 123.55,246.29 124.3,246.48 125.05,246.69 125.8,246.9 126.54,247.12 127.27,247.33 128,247.54 128.73,247.76 129.46,247.98 130.2,248.21 130.94,248.45 131.7,248.7 132.48,248.97 133.28,249.25 134.09,249.55 134.9,249.85 135.71,250.16 136.5,250.47 137.27,250.79 138,251.1 138.69,251.42 139.35,251.75 139.99,252.09 140.61,252.43 141.22,252.77 141.83,253.09 142.46,253.41 143.1,253.7 143.76,253.97 144.43,254.23 145.1,254.48 145.77,254.71 146.45,254.94 147.14,255.16 147.82,255.38 148.5,255.6 149.18,255.82 149.84,256.03 150.51,256.24 151.17,256.45 151.85,256.65 152.55,256.84 153.26,257.03 154,257.2 154.78,257.36 155.6,257.52 156.45,257.67 157.31,257.81 158.16,257.95 159.01,258.07 159.82,258.19 160.6,258.3 161.37,258.4 162.16,258.5 162.95,258.59 163.71,258.67 164.42,258.74 165.06,258.8 165.59,258.86 166,258.9" fill="none" stroke="#26a02a" stroke-width="1.4" stroke-linejoin="round"/>
<polyline points="126.98,258.85 127.48,258.84 127.98,258.82 128.48,258.81 128.98,258.79 129.48,258.78 129.98,258.75 130.48,258.73 130.98,258.7 131.48,258.67 131.98,258.63 132.48,258.59 132.98,258.54 133.48,258.49 133.98,258.43 134.48,258.36 134.98,258.28 135.48,258.2 135.98,258.1 136.48,257.99 136.98,257.87 137.48,257.74 137.98,257.6 138.48,257.44 138.98,257.27 139.48,257.08 139.98,256.87 140.48,256.65 140.98,256.41 141.48,256.15 141.98,255.87 142.48,255.57 142.98,255.25 143.48,254.91 143.98,254.55 144.48,254.17 144.98,253.77 145.48,253.35 145.98,252.92 146.48,252.46 146.98,251.99 147.48,251.5 147.98,251 148.48,250.49 148.98,249.97 149.48,249.44 149.98,248.91 150.48,248.37 150.98,247.83 151.48,247.29 151.98,246.77 152.48,246.24 152.98,245.74 153.48,245.24 153.98,244.77 154.48,244.31 154.98,243.88 155.48,243.48 155.98,243.11 156.48,242.77 156.98,242.47 157.48,242.21 157.98,241.98 158.48,241.8 158.98,241.66 159.48,241.56 159.98,241.51 160.48,241.5 160.98,241.56 161.48,241.69 161.98,241.88 162.48,242.13 162.98,242.45 163.48,242.82 163.98,243.25 164.48,243.72 164.98,244.24 165.48,244.79 165.98,245.38 166.48,245.99 166.98,246.62 167.48,247.27 167.98,247.92 168.48,248.58 168.98,249.24 169.48,249.89 169.98,250.53 170.48,251.16 170.98,251.76 171.48,252.35 171.98,252.91 172.48,253.44 172.98,253.95 173.48,254.42 173.98,254.87 174.48,255.28 174.98,255.67 175.48,256.02 175.98,256.35 176.48,256.65 176.98,256.92 177.48,257.17 177.98,257.39 178.48,257.58 178.98,257.76 179.48,257.92 179.98,258.06 180.48,258.18 180.98,258.28 181.48,258.38 181.98,258.46 182.48,258.53 182.98,258.59 183.48,258.64 183.98,258.68 184.48,258.72 184.98,258.75 185.48,258.78 185.98,258.8 186.48,258.82 186.98,258.83 187.48,258.85" fill="none" stroke="#9fe29f" stroke-width="2.6500000000000004" stroke-opacity="0.55" stroke-linejoin="round"/>
<polyline points="126.98,258.85 127.48,258.84 127.98,258.82 128.48,258.81 128.98,258.79 129.48,258.78 129.98,258.75 130.48,258.73 130.98,258.7 131.48,258.67 131.98,258.63 132.48,258.59 132.98,258.54 133.48,258.49 133.98,258.43 134.48,258.36 134.98,258.28 135.48,258.2 135.98,258.1 136.48,257.99 136.98,257.87 137.48,257.74 137.98,257.6 138.48,257.44 138.98,257.27 139.48,257.08 139.98,256.87 140.48,256.65 140.98,256.41 141.48,256.15 141.98,255.87 142.48,255.57 142.98,255.25 143.48,254.91 143.98,254.55 144.48,254.17 144.98,253.77 145.48,253.35 145.98,252.92 146.48,252.46 146.98,251.99 147.48,251.5 147.98,251 148.48,250.49 148.98,249.97 149.48,249.44 149.98,248.91 150.48,248.37 150.98,247.83 151.48,247.29 151.98,246.77 152.48,246.24 152.98,245.74 153.48,245.24 153.98,244.77 154.48,244.31 154.98,243.88 155.48,243.48 155.98,243.11 156.48,242.77 156.98,242.47 157.48,242.21 157.98,241.98 158.48,241.8 158.98,241.66 159.48,241.56 159.98,241.51 160.48,241.5 160.98,241.56 161.48,241.69 161.98,241.88 162.48,242.13 162.98,242.45 163.48,242.82 163.98,243.25 164.48,243.72 164.98,244.24 165.48,244.79 165.98,245.38 166.48,245.99 166.98,246.62 167.48,247.27 167.98,247.92 168.48,248.58 168.98,249.24 169.48,249.89 169.98,250.53 170.48,251.16 170.98,251.76 171.48,252.35 171.98,252.91 172.48,253.44 172.98,253.95 173.48,254.42 173.98,254.87 174.48,255.28 174.98,255.67 175.48,256.02 175.98,256.35 176.48,256.65 176.98,256.92 177.48,257.17 177.98,257.39 178.48,257.58 178.98,257.76 179.48,257.92 179.98,258.06 180.48,258.18 180.98,258.28 181.48,258.38 181.98,258.46 182.48,258.53 182.98,258.59 183.48,258.64 183.98,258.68 184.48,258.72 184.98,258.75 185.48,258.78 185.98,258.8 186.48,258.82 186.98,258.83 187.48,258.85" fill="none" stroke="#26a02a" stroke-width="1.4" stroke-linejoin="round"/>
</g>
<path d="M26.9,159.5 H255.8 V258.9" fill="none" stroke="#222" stroke-width="1.35"/>
<path d="M26.9,159.5 V258.9 H255.8" fill="none" stroke="#111" stroke-width="1.4"/>
<line x1="23.3" y1="258.9" x2="26.9" y2="258.9" stroke="#222" stroke-width="1"/>
<line x1="25.3" y1="250.72" x2="26.9" y2="250.72" stroke="#222" stroke-width="0.9"/>
<line x1="25.3" y1="242.55" x2="26.9" y2="242.55" stroke="#222" stroke-width="0.9"/>
<line x1="25.3" y1="234.37" x2="26.9" y2="234.37" stroke="#222" stroke-width="0.9"/>
<line x1="23.3" y1="226.2" x2="26.9" y2="226.2" stroke="#222" stroke-width="1"/>
<line x1="25.3" y1="218.02" x2="26.9" y2="218.02" stroke="#222" stroke-width="0.9"/>
<line x1="25.3" y1="209.85" x2="26.9" y2="209.85" stroke="#222" stroke-width="0.9"/>
<line x1="25.3" y1="201.67" x2="26.9" y2="201.67" stroke="#222" stroke-width="0.9"/>
<line x1="23.3" y1="193.5" x2="26.9" y2="193.5" stroke="#222" stroke-width="1"/>
<line x1="25.3" y1="185.32" x2="26.9" y2="185.32" stroke="#222" stroke-width="0.9"/>
<line x1="25.3" y1="177.15" x2="26.9" y2="177.15" stroke="#222" stroke-width="0.9"/>
<line x1="25.3" y1="168.97" x2="26.9" y2="168.97" stroke="#222" stroke-width="0.9"/>
<line x1="23.3" y1="160.8" x2="26.9" y2="160.8" stroke="#222" stroke-width="1"/>
<text x="20" y="261.3" font-size="6.8" text-anchor="end" fill="#222">0</text>
<text x="20" y="228.6" font-size="6.8" text-anchor="end" fill="#222">100</text>
<text x="20" y="195.9" font-size="6.8" text-anchor="end" fill="#222">200</text>
<text x="20" y="163.2" font-size="6.8" text-anchor="end" fill="#222">300</text>
<line x1="26.9" y1="258.9" x2="26.9" y2="262.3" stroke="#222" stroke-width="1"/>
<text x="26.9" y="268.9" font-size="6.8" text-anchor="middle" fill="#222">0</text>
<line x1="38.09" y1="258.9" x2="38.09" y2="260.5" stroke="#222" stroke-width="0.9"/>
<line x1="49.29" y1="258.9" x2="49.29" y2="260.5" stroke="#222" stroke-width="0.9"/>
<line x1="60.48" y1="258.9" x2="60.48" y2="260.5" stroke="#222" stroke-width="0.9"/>
<line x1="71.68" y1="258.9" x2="71.68" y2="262.3" stroke="#222" stroke-width="1"/>
<text x="71.68" y="268.9" font-size="6.8" text-anchor="middle" fill="#222">200</text>
<line x1="82.88" y1="258.9" x2="82.88" y2="260.5" stroke="#222" stroke-width="0.9"/>
<line x1="94.07" y1="258.9" x2="94.07" y2="260.5" stroke="#222" stroke-width="0.9"/>
<line x1="105.26" y1="258.9" x2="105.26" y2="260.5" stroke="#222" stroke-width="0.9"/>
<line x1="116.46" y1="258.9" x2="116.46" y2="262.3" stroke="#222" stroke-width="1"/>
<text x="116.46" y="268.9" font-size="6.8" text-anchor="middle" fill="#222">400</text>
<line x1="127.66" y1="258.9" x2="127.66" y2="260.5" stroke="#222" stroke-width="0.9"/>
<line x1="138.85" y1="258.9" x2="138.85" y2="260.5" stroke="#222" stroke-width="0.9"/>
<line x1="150.04" y1="258.9" x2="150.04" y2="260.5" stroke="#222" stroke-width="0.9"/>
<line x1="161.24" y1="258.9" x2="161.24" y2="262.3" stroke="#222" stroke-width="1"/>
<text x="161.24" y="268.9" font-size="6.8" text-anchor="middle" fill="#222">600</text>
<line x1="172.44" y1="258.9" x2="172.44" y2="260.5" stroke="#222" stroke-width="0.9"/>
<line x1="183.63" y1="258.9" x2="183.63" y2="260.5" stroke="#222" stroke-width="0.9"/>
<line x1="194.83" y1="258.9" x2="194.83" y2="260.5" stroke="#222" stroke-width="0.9"/>
<line x1="206.02" y1="258.9" x2="206.02" y2="262.3" stroke="#222" stroke-width="1"/>
<text x="206.02" y="268.9" font-size="6.8" text-anchor="middle" fill="#222">800</text>
<line x1="217.22" y1="258.9" x2="217.22" y2="260.5" stroke="#222" stroke-width="0.9"/>
<line x1="228.41" y1="258.9" x2="228.41" y2="260.5" stroke="#222" stroke-width="0.9"/>
<line x1="239.61" y1="258.9" x2="239.61" y2="260.5" stroke="#222" stroke-width="0.9"/>
<line x1="250.8" y1="258.9" x2="250.8" y2="262.3" stroke="#222" stroke-width="1"/>
<text x="250.8" y="268.9" font-size="6.8" text-anchor="middle" fill="#222">1000</text>
<text x="178.7" y="171.9" font-size="8" textLength="46.7" lengthAdjust="spacingAndGlyphs" fill="#111" stroke="#111" stroke-width="0.18" xml:space="preserve" style="white-space:pre">G0/G1: 35.9%</text>
<text x="195.2" y="185.4" font-size="8" textLength="30.2" lengthAdjust="spacingAndGlyphs" fill="#111" stroke="#111" stroke-width="0.18" xml:space="preserve" style="white-space:pre">S: 42.6%</text>
<text x="180.8" y="198.8" font-size="8" textLength="42.7" lengthAdjust="spacingAndGlyphs" fill="#111" stroke="#111" stroke-width="0.18" xml:space="preserve" style="white-space:pre">G2/M: 24.0%</text>
<text x="90.8" y="291" font-size="8.8" font-weight="bold" textLength="68" lengthAdjust="spacingAndGlyphs" fill="#000" stroke="#000" stroke-width="0.2" xml:space="preserve" style="white-space:pre">K562 +  miR-107</text>
<text x="139.5" y="277.9" font-size="6.1" text-anchor="middle" fill="#222">FL2-A</text>
<text transform="translate(5.1,204.6) rotate(-90)" font-size="6.2" text-anchor="middle" fill="#222"><tspan font-weight="bold">#</tspan> Cells</text>
<clipPath id="clip4"><rect x="299.7" y="159.2" width="219.2" height="99.8"/></clipPath>
<g clip-path="url(#clip4)">
<polyline points="300,259.1 354,259.1 355.5,258.62 355.9,258.52 356.3,258.36 356.7,258.13 357.1,257.81 357.5,257.35 357.9,256.49 358.3,255.41 358.7,254.04 359.1,252.3 359.5,250.1 359.9,247.37 360.3,244.05 360.7,240.1 361.1,235.54 361.5,230.36 361.9,224.61 362.3,218.38 362.7,211.79 363.1,204.97 363.5,198.15 363.9,191.63 364.5,183 365.1,175 365.7,169 366.3,165.7 366.6,172 367,180 367.5,188 368.2,198 368.6,205 369.4,212 370.2,218.5 371.1,222.9 372.4,226.7 374,229.6 375.6,232.4 377.5,236.9 378,235.1 379.5,241 381.3,237.5 382.7,241.6 385.1,237.8 386.9,242.2 388.9,245.2 389.8,241.6 392.2,238.9 394,242.8 395.8,241.6 397.5,244 399.3,244.6 401.7,241.6 404,246.3 405.3,242.2 407,245.2 408.4,243.4 409.9,246.3 411.4,242.8 412.3,241.6 413.5,242.8 414.9,242.2 416.5,240.5 418,238.5 419.4,236.3 420.3,236.3 421.2,241.6 422.3,235.7 423.5,238.7 424.4,244 425.3,237.5 426.2,239.8 427.7,245.2 428.6,249.9 429.4,246.3 430.3,247 431.7,246.3 432.9,250 434.2,253.1 436,253.7 438.5,253.1 439.7,255.5 441.5,256.8 444,258 447,259.1 519,259.1" fill="none" stroke="#111" stroke-width="1.35" stroke-linejoin="round"/>
<polyline points="355.7,258.87 356,258.78 356.3,258.66 356.6,258.5 356.9,258.29 357.2,258.01 357.5,257.65 357.8,257.19 358.1,256.6 358.4,255.88 358.7,254.99 359,253.9 359.3,252.58 359.6,251.02 359.9,249.18 360.2,247.04 360.5,244.59 360.8,241.82 361.1,238.72 361.4,235.3 361.7,231.59 362,227.61 362.3,223.42 362.6,219.07 362.9,214.64 363.2,210.21 363.5,205.87 363.8,201.73 364.1,197.87 364.4,194.41 364.7,191.44 365,189.03 365.3,187.25 365.6,186.17 365.9,185.8 366.2,186.07 366.5,186.87 366.8,188.18 367.1,189.98 367.4,192.23 367.7,194.88 368,197.87 368.3,201.16 368.6,204.66 368.9,208.33 369.2,212.1 369.5,215.91 369.8,219.7 370.1,223.42 370.4,227.03 370.7,230.48 371,233.75 371.3,236.81 371.6,239.64 371.9,242.24 372.2,244.59 372.5,246.71 372.8,248.6 373.1,250.27 373.4,251.72 373.7,252.98 374,254.06 374.3,254.99 374.6,255.76 374.9,256.41 375.2,256.95 375.5,257.4 375.8,257.76 376.1,258.05 376.4,258.29 376.7,258.47 377,258.62 377.3,258.74 377.6,258.83" fill="none" stroke="#9fe29f" stroke-width="2.6500000000000004" stroke-opacity="0.55" stroke-linejoin="round"/>
<polyline points="355.7,258.87 356,258.78 356.3,258.66 356.6,258.5 356.9,258.29 357.2,258.01 357.5,257.65 357.8,257.19 358.1,256.6 358.4,255.88 358.7,254.99 359,253.9 359.3,252.58 359.6,251.02 359.9,249.18 360.2,247.04 360.5,244.59 360.8,241.82 361.1,238.72 361.4,235.3 361.7,231.59 362,227.61 362.3,223.42 362.6,219.07 362.9,214.64 363.2,210.21 363.5,205.87 363.8,201.73 364.1,197.87 364.4,194.41 364.7,191.44 365,189.03 365.3,187.25 365.6,186.17 365.9,185.8 366.2,186.07 366.5,186.87 366.8,188.18 367.1,189.98 367.4,192.23 367.7,194.88 368,197.87 368.3,201.16 368.6,204.66 368.9,208.33 369.2,212.1 369.5,215.91 369.8,219.7 370.1,223.42 370.4,227.03 370.7,230.48 371,233.75 371.3,236.81 371.6,239.64 371.9,242.24 372.2,244.59 372.5,246.71 372.8,248.6 373.1,250.27 373.4,251.72 373.7,252.98 374,254.06 374.3,254.99 374.6,255.76 374.9,256.41 375.2,256.95 375.5,257.4 375.8,257.76 376.1,258.05 376.4,258.29 376.7,258.47 377,258.62 377.3,258.74 377.6,258.83" fill="none" stroke="#26a02a" stroke-width="1.4" stroke-linejoin="round"/>
<polyline points="357.5,259.1 357.69,258.99 357.95,258.86 358.25,258.7 358.59,258.52 358.95,258.31 359.32,258.07 359.67,257.8 360,257.5 360.31,257.17 360.63,256.81 360.95,256.42 361.26,256 361.58,255.55 361.89,255.07 362.2,254.55 362.5,254 362.79,253.4 363.08,252.74 363.36,252.05 363.64,251.32 363.92,250.58 364.2,249.84 364.49,249.1 364.8,248.4 365.12,247.7 365.45,246.98 365.8,246.25 366.14,245.53 366.49,244.83 366.84,244.17 367.17,243.55 367.5,243 367.82,242.51 368.13,242.07 368.44,241.68 368.75,241.32 369.05,240.99 369.34,240.68 369.63,240.39 369.9,240.1 370.15,239.82 370.38,239.57 370.59,239.34 370.8,239.12 371.01,238.92 371.25,238.73 371.5,238.56 371.8,238.4 372.14,238.25 372.51,238.11 372.91,237.98 373.33,237.86 373.76,237.77 374.18,237.69 374.6,237.63 375,237.6 375.36,237.59 375.7,237.61 376.01,237.64 376.33,237.69 376.67,237.77 377.05,237.86 377.49,237.97 378,238.1 378.6,238.25 379.27,238.42 380,238.62 380.77,238.83 381.56,239.06 382.36,239.3 383.14,239.55 383.9,239.8 384.64,240.07 385.37,240.35 386.11,240.65 386.84,240.96 387.58,241.27 388.32,241.58 389.06,241.9 389.8,242.2 390.55,242.49 391.3,242.77 392.05,243.05 392.8,243.33 393.55,243.62 394.3,243.92 395.05,244.25 395.8,244.6 396.57,244.99 397.37,245.43 398.18,245.89 398.98,246.36 399.76,246.83 400.48,247.29 401.14,247.72 401.7,248.1 402.14,248.43 402.47,248.73 402.72,249 402.93,249.26 403.12,249.5 403.34,249.75 403.62,250.01 404,250.3 404.47,250.61 404.99,250.93 405.56,251.27 406.16,251.61 406.79,251.94 407.43,252.28 408.07,252.6 408.7,252.9 409.33,253.19 409.97,253.47 410.61,253.74 411.27,254 411.93,254.26 412.61,254.51 413.3,254.76 414,255 414.72,255.24 415.45,255.48 416.2,255.71 416.96,255.94 417.72,256.17 418.48,256.39 419.25,256.6 420,256.8 420.75,257 421.5,257.19 422.25,257.38 423,257.56 423.75,257.73 424.5,257.89 425.25,258.05 426,258.2 426.79,258.34 427.64,258.48 428.51,258.61 429.38,258.74 430.19,258.85 430.92,258.95 431.54,259.03 432,259.1" fill="none" stroke="#9fe29f" stroke-width="2.6500000000000004" stroke-opacity="0.55" stroke-linejoin="round"/>
<polyline points="357.5,259.1 357.69,258.99 357.95,258.86 358.25,258.7 358.59,258.52 358.95,258.31 359.32,258.07 359.67,257.8 360,257.5 360.31,257.17 360.63,256.81 360.95,256.42 361.26,256 361.58,255.55 361.89,255.07 362.2,254.55 362.5,254 362.79,253.4 363.08,252.74 363.36,252.05 363.64,251.32 363.92,250.58 364.2,249.84 364.49,249.1 364.8,248.4 365.12,247.7 365.45,246.98 365.8,246.25 366.14,245.53 366.49,244.83 366.84,244.17 367.17,243.55 367.5,243 367.82,242.51 368.13,242.07 368.44,241.68 368.75,241.32 369.05,240.99 369.34,240.68 369.63,240.39 369.9,240.1 370.15,239.82 370.38,239.57 370.59,239.34 370.8,239.12 371.01,238.92 371.25,238.73 371.5,238.56 371.8,238.4 372.14,238.25 372.51,238.11 372.91,237.98 373.33,237.86 373.76,237.77 374.18,237.69 374.6,237.63 375,237.6 375.36,237.59 375.7,237.61 376.01,237.64 376.33,237.69 376.67,237.77 377.05,237.86 377.49,237.97 378,238.1 378.6,238.25 379.27,238.42 380,238.62 380.77,238.83 381.56,239.06 382.36,239.3 383.14,239.55 383.9,239.8 384.64,240.07 385.37,240.35 386.11,240.65 386.84,240.96 387.58,241.27 388.32,241.58 389.06,241.9 389.8,242.2 390.55,242.49 391.3,242.77 392.05,243.05 392.8,243.33 393.55,243.62 394.3,243.92 395.05,244.25 395.8,244.6 396.57,244.99 397.37,245.43 398.18,245.89 398.98,246.36 399.76,246.83 400.48,247.29 401.14,247.72 401.7,248.1 402.14,248.43 402.47,248.73 402.72,249 402.93,249.26 403.12,249.5 403.34,249.75 403.62,250.01 404,250.3 404.47,250.61 404.99,250.93 405.56,251.27 406.16,251.61 406.79,251.94 407.43,252.28 408.07,252.6 408.7,252.9 409.33,253.19 409.97,253.47 410.61,253.74 411.27,254 411.93,254.26 412.61,254.51 413.3,254.76 414,255 414.72,255.24 415.45,255.48 416.2,255.71 416.96,255.94 417.72,256.17 418.48,256.39 419.25,256.6 420,256.8 420.75,257 421.5,257.19 422.25,257.38 423,257.56 423.75,257.73 424.5,257.89 425.25,258.05 426,258.2 426.79,258.34 427.64,258.48 428.51,258.61 429.38,258.74 430.19,258.85 430.92,258.95 431.54,259.03 432,259.1" fill="none" stroke="#26a02a" stroke-width="1.4" stroke-linejoin="round"/>
<polyline points="391.4,259.04 391.9,259.03 392.4,259.01 392.9,259 393.4,258.97 393.9,258.95 394.4,258.92 394.9,258.89 395.4,258.85 395.9,258.81 396.4,258.76 396.9,258.7 397.4,258.63 397.9,258.56 398.4,258.47 398.9,258.38 399.4,258.27 399.9,258.14 400.4,258.01 400.9,257.85 401.4,257.68 401.9,257.49 402.4,257.28 402.9,257.05 403.4,256.8 403.9,256.52 404.4,256.22 404.9,255.89 405.4,255.54 405.9,255.16 406.4,254.76 406.9,254.33 407.4,253.87 407.9,253.38 408.4,252.87 408.9,252.34 409.4,251.78 409.9,251.2 410.4,250.6 410.9,249.99 411.4,249.35 411.9,248.71 412.4,248.06 412.9,247.4 413.4,246.75 413.9,246.09 414.4,245.45 414.9,244.81 415.4,244.2 415.9,243.6 416.4,243.03 416.9,242.49 417.4,241.99 417.9,241.52 418.4,241.1 418.9,240.72 419.4,240.4 419.9,240.12 420.4,239.91 420.9,239.75 421.4,239.64 421.9,239.6 422.4,239.62 422.9,239.7 423.4,239.85 423.9,240.06 424.4,240.33 424.9,240.65 425.4,241.03 425.9,241.46 426.4,241.94 426.9,242.46 427.4,243.02 427.9,243.61 428.4,244.22 428.9,244.86 429.4,245.52 429.9,246.19 430.4,246.86 430.9,247.54 431.4,248.22 431.9,248.89 432.4,249.56 432.9,250.2 433.4,250.84 433.9,251.45 434.4,252.04 434.9,252.6 435.4,253.14 435.9,253.66 436.4,254.14 436.9,254.6 437.4,255.03 437.9,255.43 438.4,255.8 438.9,256.14 439.4,256.46 439.9,256.75 440.4,257.02 440.9,257.26 441.4,257.48 441.9,257.67 442.4,257.85 442.9,258.01 443.4,258.15 443.9,258.28 444.4,258.39 444.9,258.49 445.4,258.58 445.9,258.65 446.4,258.72 446.9,258.78 447.4,258.83 447.9,258.87 448.4,258.9 448.9,258.94 449.4,258.96 449.9,258.99 450.4,259.01 450.9,259.02 451.4,259.04" fill="none" stroke="#9fe29f" stroke-width="2.6500000000000004" stroke-opacity="0.55" stroke-linejoin="round"/>
<polyline points="391.4,259.04 391.9,259.03 392.4,259.01 392.9,259 393.4,258.97 393.9,258.95 394.4,258.92 394.9,258.89 395.4,258.85 395.9,258.81 396.4,258.76 396.9,258.7 397.4,258.63 397.9,258.56 398.4,258.47 398.9,258.38 399.4,258.27 399.9,258.14 400.4,258.01 400.9,257.85 401.4,257.68 401.9,257.49 402.4,257.28 402.9,257.05 403.4,256.8 403.9,256.52 404.4,256.22 404.9,255.89 405.4,255.54 405.9,255.16 406.4,254.76 406.9,254.33 407.4,253.87 407.9,253.38 408.4,252.87 408.9,252.34 409.4,251.78 409.9,251.2 410.4,250.6 410.9,249.99 411.4,249.35 411.9,248.71 412.4,248.06 412.9,247.4 413.4,246.75 413.9,246.09 414.4,245.45 414.9,244.81 415.4,244.2 415.9,243.6 416.4,243.03 416.9,242.49 417.4,241.99 417.9,241.52 418.4,241.1 418.9,240.72 419.4,240.4 419.9,240.12 420.4,239.91 420.9,239.75 421.4,239.64 421.9,239.6 422.4,239.62 422.9,239.7 423.4,239.85 423.9,240.06 424.4,240.33 424.9,240.65 425.4,241.03 425.9,241.46 426.4,241.94 426.9,242.46 427.4,243.02 427.9,243.61 428.4,244.22 428.9,244.86 429.4,245.52 429.9,246.19 430.4,246.86 430.9,247.54 431.4,248.22 431.9,248.89 432.4,249.56 432.9,250.2 433.4,250.84 433.9,251.45 434.4,252.04 434.9,252.6 435.4,253.14 435.9,253.66 436.4,254.14 436.9,254.6 437.4,255.03 437.9,255.43 438.4,255.8 438.9,256.14 439.4,256.46 439.9,256.75 440.4,257.02 440.9,257.26 441.4,257.48 441.9,257.67 442.4,257.85 442.9,258.01 443.4,258.15 443.9,258.28 444.4,258.39 444.9,258.49 445.4,258.58 445.9,258.65 446.4,258.72 446.9,258.78 447.4,258.83 447.9,258.87 448.4,258.9 448.9,258.94 449.4,258.96 449.9,258.99 450.4,259.01 450.9,259.02 451.4,259.04" fill="none" stroke="#26a02a" stroke-width="1.4" stroke-linejoin="round"/>
</g>
<path d="M299.7,159.2 H518.9 V259" fill="none" stroke="#222" stroke-width="1.35"/>
<path d="M299.7,159.2 V259 H518.9" fill="none" stroke="#111" stroke-width="1.4"/>
<line x1="296.1" y1="259.1" x2="299.7" y2="259.1" stroke="#222" stroke-width="1"/>
<line x1="298.1" y1="255.56" x2="299.7" y2="255.56" stroke="#222" stroke-width="0.9"/>
<line x1="298.1" y1="252.02" x2="299.7" y2="252.02" stroke="#222" stroke-width="0.9"/>
<line x1="298.1" y1="248.48" x2="299.7" y2="248.48" stroke="#222" stroke-width="0.9"/>
<line x1="298.1" y1="244.94" x2="299.7" y2="244.94" stroke="#222" stroke-width="0.9"/>
<line x1="296.1" y1="241.4" x2="299.7" y2="241.4" stroke="#222" stroke-width="1"/>
<line x1="298.1" y1="237.86" x2="299.7" y2="237.86" stroke="#222" stroke-width="0.9"/>
<line x1="298.1" y1="234.32" x2="299.7" y2="234.32" stroke="#222" stroke-width="0.9"/>
<line x1="298.1" y1="230.78" x2="299.7" y2="230.78" stroke="#222" stroke-width="0.9"/>
<line x1="298.1" y1="227.24" x2="299.7" y2="227.24" stroke="#222" stroke-width="0.9"/>
<line x1="296.1" y1="223.7" x2="299.7" y2="223.7" stroke="#222" stroke-width="1"/>
<line x1="298.1" y1="220.16" x2="299.7" y2="220.16" stroke="#222" stroke-width="0.9"/>
<line x1="298.1" y1="216.62" x2="299.7" y2="216.62" stroke="#222" stroke-width="0.9"/>
<line x1="298.1" y1="213.08" x2="299.7" y2="213.08" stroke="#222" stroke-width="0.9"/>
<line x1="298.1" y1="209.54" x2="299.7" y2="209.54" stroke="#222" stroke-width="0.9"/>
<line x1="296.1" y1="206" x2="299.7" y2="206" stroke="#222" stroke-width="1"/>
<line x1="298.1" y1="202.46" x2="299.7" y2="202.46" stroke="#222" stroke-width="0.9"/>
<line x1="298.1" y1="198.92" x2="299.7" y2="198.92" stroke="#222" stroke-width="0.9"/>
<line x1="298.1" y1="195.38" x2="299.7" y2="195.38" stroke="#222" stroke-width="0.9"/>
<line x1="298.1" y1="191.84" x2="299.7" y2="191.84" stroke="#222" stroke-width="0.9"/>
<line x1="296.1" y1="188.3" x2="299.7" y2="188.3" stroke="#222" stroke-width="1"/>
<line x1="298.1" y1="184.76" x2="299.7" y2="184.76" stroke="#222" stroke-width="0.9"/>
<line x1="298.1" y1="181.22" x2="299.7" y2="181.22" stroke="#222" stroke-width="0.9"/>
<line x1="298.1" y1="177.68" x2="299.7" y2="177.68" stroke="#222" stroke-width="0.9"/>
<line x1="298.1" y1="174.14" x2="299.7" y2="174.14" stroke="#222" stroke-width="0.9"/>
<line x1="296.1" y1="170.6" x2="299.7" y2="170.6" stroke="#222" stroke-width="1"/>
<line x1="298.1" y1="167.06" x2="299.7" y2="167.06" stroke="#222" stroke-width="0.9"/>
<line x1="298.1" y1="163.52" x2="299.7" y2="163.52" stroke="#222" stroke-width="0.9"/>
<line x1="298.1" y1="159.98" x2="299.7" y2="159.98" stroke="#222" stroke-width="0.9"/>
<text x="292.8" y="261.5" font-size="6.8" text-anchor="end" fill="#222">0</text>
<text x="292.8" y="243.8" font-size="6.8" text-anchor="end" fill="#222">50</text>
<text x="292.8" y="226.1" font-size="6.8" text-anchor="end" fill="#222">100</text>
<text x="292.8" y="208.4" font-size="6.8" text-anchor="end" fill="#222">150</text>
<text x="292.8" y="190.7" font-size="6.8" text-anchor="end" fill="#222">200</text>
<text x="292.8" y="173" font-size="6.8" text-anchor="end" fill="#222">250</text>
<line x1="299.5" y1="259" x2="299.5" y2="262.4" stroke="#222" stroke-width="1"/>
<text x="299.5" y="268.8" font-size="6.8" text-anchor="middle" fill="#222">0</text>
<line x1="310.24" y1="259" x2="310.24" y2="260.6" stroke="#222" stroke-width="0.9"/>
<line x1="320.97" y1="259" x2="320.97" y2="260.6" stroke="#222" stroke-width="0.9"/>
<line x1="331.7" y1="259" x2="331.7" y2="260.6" stroke="#222" stroke-width="0.9"/>
<line x1="342.44" y1="259" x2="342.44" y2="262.4" stroke="#222" stroke-width="1"/>
<text x="342.44" y="268.8" font-size="6.8" text-anchor="middle" fill="#222">200</text>
<line x1="353.18" y1="259" x2="353.18" y2="260.6" stroke="#222" stroke-width="0.9"/>
<line x1="363.91" y1="259" x2="363.91" y2="260.6" stroke="#222" stroke-width="0.9"/>
<line x1="374.64" y1="259" x2="374.64" y2="260.6" stroke="#222" stroke-width="0.9"/>
<line x1="385.38" y1="259" x2="385.38" y2="262.4" stroke="#222" stroke-width="1"/>
<text x="385.38" y="268.8" font-size="6.8" text-anchor="middle" fill="#222">400</text>
<line x1="396.12" y1="259" x2="396.12" y2="260.6" stroke="#222" stroke-width="0.9"/>
<line x1="406.85" y1="259" x2="406.85" y2="260.6" stroke="#222" stroke-width="0.9"/>
<line x1="417.59" y1="259" x2="417.59" y2="260.6" stroke="#222" stroke-width="0.9"/>
<line x1="428.32" y1="259" x2="428.32" y2="262.4" stroke="#222" stroke-width="1"/>
<text x="428.32" y="268.8" font-size="6.8" text-anchor="middle" fill="#222">600</text>
<line x1="439.06" y1="259" x2="439.06" y2="260.6" stroke="#222" stroke-width="0.9"/>
<line x1="449.79" y1="259" x2="449.79" y2="260.6" stroke="#222" stroke-width="0.9"/>
<line x1="460.53" y1="259" x2="460.53" y2="260.6" stroke="#222" stroke-width="0.9"/>
<line x1="471.26" y1="259" x2="471.26" y2="262.4" stroke="#222" stroke-width="1"/>
<text x="471.26" y="268.8" font-size="6.8" text-anchor="middle" fill="#222">800</text>
<line x1="482" y1="259" x2="482" y2="260.6" stroke="#222" stroke-width="0.9"/>
<line x1="492.73" y1="259" x2="492.73" y2="260.6" stroke="#222" stroke-width="0.9"/>
<line x1="503.47" y1="259" x2="503.47" y2="260.6" stroke="#222" stroke-width="0.9"/>
<line x1="514.2" y1="259" x2="514.2" y2="262.4" stroke="#222" stroke-width="1"/>
<text x="514.2" y="268.8" font-size="6.8" text-anchor="middle" fill="#222">1000</text>
<text x="429.2" y="171.9" font-size="8" textLength="47" lengthAdjust="spacingAndGlyphs" fill="#111" stroke="#111" stroke-width="0.18" xml:space="preserve" style="white-space:pre">G0/G1: 32.7%</text>
<text x="445.6" y="185.4" font-size="8" textLength="30.6" lengthAdjust="spacingAndGlyphs" fill="#111" stroke="#111" stroke-width="0.18" xml:space="preserve" style="white-space:pre">S: 45.9%</text>
<text x="431.2" y="198.8" font-size="8" textLength="43.6" lengthAdjust="spacingAndGlyphs" fill="#111" stroke="#111" stroke-width="0.18" xml:space="preserve" style="white-space:pre">G2/M: 24.3%</text>
<text x="348.7" y="291.2" font-size="8.8" font-weight="bold" textLength="67.6" lengthAdjust="spacingAndGlyphs" fill="#000" stroke="#000" stroke-width="0.2" xml:space="preserve" style="white-space:pre">K562 +  miR-150</text>
<text x="406.8" y="277.9" font-size="6.1" text-anchor="middle" fill="#222">FL2-A</text>
<text transform="translate(278.1,215) rotate(-90)" font-size="6.2" text-anchor="middle" fill="#222"><tspan font-weight="bold">#</tspan> Cells</text>
<clipPath id="clip5"><rect x="26" y="321.1" width="211.3" height="97.1"/></clipPath>
<g clip-path="url(#clip5)">
<polygon points="26,418.2 26,418.2 72,418.2 74,416.7 75.5,413.3 76.8,416.7 78.5,417.5 81.2,415.6 83,408.7 84.2,398.5 85.1,381.4 85.7,370 86.4,354.5 87.1,340.8 87.6,334 88.1,331.7 89,332.5 90.2,333.4 90.8,343.1 91.4,356.8 92.3,358.5 93.1,360.2 93.5,370 93.8,378 94.1,385.5 95,385.2 96.8,386.5 98.5,386.9 100,385.6 101.1,384.8 101.9,392.1 103.7,393 105.4,391.3 107.1,396.5 108.4,403.4 109.3,395.6 111,394.7 112.3,397.3 113.6,395.6 115.3,398.2 117.1,396.5 118.4,404.2 119.7,399 121,399.9 122.7,395.6 124.4,400.8 126.2,397.3 127.9,395.6 129.6,398.2 131.4,399.9 133.1,399 134.8,400.8 136.5,396.3 137.7,393 139,392.2 140.2,391.4 141.4,393 142.7,396.3 144.3,393.8 145.5,393 146.8,393.8 147.6,397.1 148.8,400.4 149.6,400.4 150.4,404.5 151.3,407.8 152.9,411 154.1,412.7 155.8,414.3 157.4,416 159.9,417.2 162.3,417.6 165,418.2 237,418.2 237,418.2" fill="#c3c1c3" stroke="none"/>
<polyline points="26,418.2 72,418.2 74,416.7 75.5,413.3 76.8,416.7 78.5,417.5 81.2,415.6 83,408.7 84.2,398.5 85.1,381.4 85.7,370 86.4,354.5 87.1,340.8 87.6,334 88.1,331.7 89,332.5 90.2,333.4 90.8,343.1 91.4,356.8 92.3,358.5 93.1,360.2 93.5,370 93.8,378 94.1,385.5 95,385.2 96.8,386.5 98.5,386.9 100,385.6 101.1,384.8 101.9,392.1 103.7,393 105.4,391.3 107.1,396.5 108.4,403.4 109.3,395.6 111,394.7 112.3,397.3 113.6,395.6 115.3,398.2 117.1,396.5 118.4,404.2 119.7,399 121,399.9 122.7,395.6 124.4,400.8 126.2,397.3 127.9,395.6 129.6,398.2 131.4,399.9 133.1,399 134.8,400.8 136.5,396.3 137.7,393 139,392.2 140.2,391.4 141.4,393 142.7,396.3 144.3,393.8 145.5,393 146.8,393.8 147.6,397.1 148.8,400.4 149.6,400.4 150.4,404.5 151.3,407.8 152.9,411 154.1,412.7 155.8,414.3 157.4,416 159.9,417.2 162.3,417.6 165,418.2 237,418.2" fill="none" stroke="#111" stroke-width="1.75" stroke-linejoin="round"/>
<polyline points="78.4,417.96 78.7,417.86 79,417.73 79.3,417.56 79.6,417.33 79.9,417.03 80.2,416.65 80.5,416.16 80.8,415.54 81.1,414.76 81.4,413.81 81.7,412.65 82,411.25 82.3,409.58 82.6,407.62 82.9,405.34 83.2,402.72 83.5,399.76 83.8,396.46 84.1,392.81 84.4,388.85 84.7,384.61 85,380.14 85.3,375.5 85.6,370.77 85.9,366.04 86.2,361.42 86.5,356.99 86.8,352.88 87.1,349.19 87.4,346.01 87.7,343.44 88,341.55 88.3,340.39 88.6,340 88.9,340.39 89.2,341.55 89.5,343.44 89.8,346.01 90.1,349.19 90.4,352.88 90.7,356.99 91,361.42 91.3,366.04 91.6,370.77 91.9,375.5 92.2,380.14 92.5,384.61 92.8,388.85 93.1,392.81 93.4,396.46 93.7,399.76 94,402.72 94.3,405.34 94.6,407.62 94.9,409.58 95.2,411.25 95.5,412.65 95.8,413.81 96.1,414.76 96.4,415.54 96.7,416.16 97,416.65 97.3,417.03 97.6,417.33 97.9,417.56 98.2,417.73 98.5,417.86 98.8,417.96" fill="none" stroke="#9fe29f" stroke-width="2.6500000000000004" stroke-opacity="0.55" stroke-linejoin="round"/>
<polyline points="78.4,417.96 78.7,417.86 79,417.73 79.3,417.56 79.6,417.33 79.9,417.03 80.2,416.65 80.5,416.16 80.8,415.54 81.1,414.76 81.4,413.81 81.7,412.65 82,411.25 82.3,409.58 82.6,407.62 82.9,405.34 83.2,402.72 83.5,399.76 83.8,396.46 84.1,392.81 84.4,388.85 84.7,384.61 85,380.14 85.3,375.5 85.6,370.77 85.9,366.04 86.2,361.42 86.5,356.99 86.8,352.88 87.1,349.19 87.4,346.01 87.7,343.44 88,341.55 88.3,340.39 88.6,340 88.9,340.39 89.2,341.55 89.5,343.44 89.8,346.01 90.1,349.19 90.4,352.88 90.7,356.99 91,361.42 91.3,366.04 91.6,370.77 91.9,375.5 92.2,380.14 92.5,384.61 92.8,388.85 93.1,392.81 93.4,396.46 93.7,399.76 94,402.72 94.3,405.34 94.6,407.62 94.9,409.58 95.2,411.25 95.5,412.65 95.8,413.81 96.1,414.76 96.4,415.54 96.7,416.16 97,416.65 97.3,417.03 97.6,417.33 97.9,417.56 98.2,417.73 98.5,417.86 98.8,417.96" fill="none" stroke="#26a02a" stroke-width="1.4" stroke-linejoin="round"/>
<polyline points="80.3,418.2 80.5,418.13 80.75,418.09 81.05,418.06 81.39,417.98 81.77,417.83 82.16,417.56 82.58,417.13 83,416.5 83.43,415.62 83.89,414.49 84.36,413.18 84.86,411.77 85.38,410.31 85.93,408.89 86.5,407.56 87.1,406.4 87.74,405.37 88.41,404.39 89.12,403.46 89.85,402.58 90.59,401.76 91.34,400.98 92.08,400.26 92.8,399.6 93.53,398.99 94.3,398.45 95.08,397.95 95.85,397.51 96.6,397.12 97.3,396.77 97.94,396.47 98.5,396.2 98.96,395.99 99.34,395.85 99.65,395.76 99.92,395.71 100.17,395.68 100.41,395.66 100.69,395.64 101,395.6 101.34,395.54 101.69,395.49 102.04,395.44 102.41,395.39 102.78,395.36 103.17,395.33 103.57,395.31 104,395.3 104.42,395.29 104.84,395.27 105.25,395.25 105.69,395.24 106.16,395.26 106.7,395.32 107.3,395.43 108,395.6 108.8,395.84 109.7,396.13 110.68,396.47 111.71,396.85 112.78,397.26 113.86,397.7 114.94,398.14 116,398.6 117.08,399.09 118.23,399.62 119.41,400.19 120.59,400.77 121.73,401.35 122.8,401.91 123.77,402.43 124.6,402.9 125.27,403.29 125.8,403.62 126.23,403.92 126.59,404.19 126.91,404.46 127.23,404.76 127.58,405.1 128,405.5 128.47,405.98 128.96,406.53 129.46,407.12 129.96,407.74 130.47,408.35 130.99,408.95 131.5,409.51 132,410 132.5,410.44 133,410.84 133.5,411.21 134,411.55 134.5,411.88 135,412.19 135.5,412.5 136,412.8 136.5,413.1 136.99,413.39 137.49,413.67 137.98,413.94 138.48,414.19 138.98,414.44 139.49,414.68 140,414.9 140.52,415.11 141.06,415.31 141.6,415.49 142.14,415.67 142.69,415.84 143.23,415.99 143.77,416.15 144.3,416.3 144.82,416.45 145.33,416.59 145.83,416.72 146.33,416.84 146.83,416.96 147.34,417.08 147.86,417.19 148.4,417.3 148.96,417.41 149.53,417.51 150.11,417.61 150.71,417.7 151.3,417.79 151.88,417.87 152.45,417.94 153,418 153.56,418.05 154.14,418.09 154.72,418.12 155.29,418.14 155.82,418.16 156.3,418.18 156.7,418.19 157,418.2" fill="none" stroke="#9fe29f" stroke-width="2.6500000000000004" stroke-opacity="0.55" stroke-linejoin="round"/>
<polyline points="80.3,418.2 80.5,418.13 80.75,418.09 81.05,418.06 81.39,417.98 81.77,417.83 82.16,417.56 82.58,417.13 83,416.5 83.43,415.62 83.89,414.49 84.36,413.18 84.86,411.77 85.38,410.31 85.93,408.89 86.5,407.56 87.1,406.4 87.74,405.37 88.41,404.39 89.12,403.46 89.85,402.58 90.59,401.76 91.34,400.98 92.08,400.26 92.8,399.6 93.53,398.99 94.3,398.45 95.08,397.95 95.85,397.51 96.6,397.12 97.3,396.77 97.94,396.47 98.5,396.2 98.96,395.99 99.34,395.85 99.65,395.76 99.92,395.71 100.17,395.68 100.41,395.66 100.69,395.64 101,395.6 101.34,395.54 101.69,395.49 102.04,395.44 102.41,395.39 102.78,395.36 103.17,395.33 103.57,395.31 104,395.3 104.42,395.29 104.84,395.27 105.25,395.25 105.69,395.24 106.16,395.26 106.7,395.32 107.3,395.43 108,395.6 108.8,395.84 109.7,396.13 110.68,396.47 111.71,396.85 112.78,397.26 113.86,397.7 114.94,398.14 116,398.6 117.08,399.09 118.23,399.62 119.41,400.19 120.59,400.77 121.73,401.35 122.8,401.91 123.77,402.43 124.6,402.9 125.27,403.29 125.8,403.62 126.23,403.92 126.59,404.19 126.91,404.46 127.23,404.76 127.58,405.1 128,405.5 128.47,405.98 128.96,406.53 129.46,407.12 129.96,407.74 130.47,408.35 130.99,408.95 131.5,409.51 132,410 132.5,410.44 133,410.84 133.5,411.21 134,411.55 134.5,411.88 135,412.19 135.5,412.5 136,412.8 136.5,413.1 136.99,413.39 137.49,413.67 137.98,413.94 138.48,414.19 138.98,414.44 139.49,414.68 140,414.9 140.52,415.11 141.06,415.31 141.6,415.49 142.14,415.67 142.69,415.84 143.23,415.99 143.77,416.15 144.3,416.3 144.82,416.45 145.33,416.59 145.83,416.72 146.33,416.84 146.83,416.96 147.34,417.08 147.86,417.19 148.4,417.3 148.96,417.41 149.53,417.51 150.11,417.61 150.71,417.7 151.3,417.79 151.88,417.87 152.45,417.94 153,418 153.56,418.05 154.14,418.09 154.72,418.12 155.29,418.14 155.82,418.16 156.3,418.18 156.7,418.19 157,418.2" fill="none" stroke="#26a02a" stroke-width="1.4" stroke-linejoin="round"/>
<polyline points="116.68,418.13 117.18,418.11 117.68,418.09 118.18,418.06 118.68,418.03 119.18,417.99 119.68,417.95 120.18,417.89 120.68,417.83 121.18,417.75 121.68,417.67 122.18,417.56 122.68,417.45 123.18,417.31 123.68,417.15 124.18,416.97 124.68,416.77 125.18,416.54 125.68,416.27 126.18,415.98 126.68,415.65 127.18,415.29 127.68,414.88 128.18,414.44 128.68,413.96 129.18,413.43 129.68,412.86 130.18,412.24 130.68,411.58 131.18,410.88 131.68,410.14 132.18,409.35 132.68,408.53 133.18,407.68 133.68,406.8 134.18,405.9 134.68,404.98 135.18,404.05 135.68,403.12 136.18,402.19 136.68,401.28 137.18,400.38 137.68,399.52 138.18,398.69 138.68,397.91 139.18,397.18 139.68,396.52 140.18,395.93 140.68,395.42 141.18,394.99 141.68,394.65 142.18,394.4 142.68,394.25 143.18,394.2 143.68,394.25 144.18,394.42 144.68,394.69 145.18,395.07 145.68,395.55 146.18,396.12 146.68,396.78 147.18,397.51 147.68,398.32 148.18,399.18 148.68,400.09 149.18,401.04 149.68,402.02 150.18,403.01 150.68,404 151.18,405 151.68,405.98 152.18,406.94 152.68,407.87 153.18,408.77 153.68,409.64 154.18,410.46 154.68,411.23 155.18,411.96 155.68,412.63 156.18,413.26 156.68,413.84 157.18,414.36 157.68,414.84 158.18,415.28 158.68,415.67 159.18,416.01 159.68,416.32 160.18,416.6 160.68,416.83 161.18,417.04 161.68,417.23 162.18,417.38 162.68,417.52 163.18,417.63 163.68,417.73 164.18,417.81 164.68,417.88 165.18,417.94 165.68,417.99 166.18,418.03 166.68,418.06 167.18,418.09 167.68,418.11" fill="none" stroke="#9fe29f" stroke-width="2.6500000000000004" stroke-opacity="0.55" stroke-linejoin="round"/>
<polyline points="116.68,418.13 117.18,418.11 117.68,418.09 118.18,418.06 118.68,418.03 119.18,417.99 119.68,417.95 120.18,417.89 120.68,417.83 121.18,417.75 121.68,417.67 122.18,417.56 122.68,417.45 123.18,417.31 123.68,417.15 124.18,416.97 124.68,416.77 125.18,416.54 125.68,416.27 126.18,415.98 126.68,415.65 127.18,415.29 127.68,414.88 128.18,414.44 128.68,413.96 129.18,413.43 129.68,412.86 130.18,412.24 130.68,411.58 131.18,410.88 131.68,410.14 132.18,409.35 132.68,408.53 133.18,407.68 133.68,406.8 134.18,405.9 134.68,404.98 135.18,404.05 135.68,403.12 136.18,402.19 136.68,401.28 137.18,400.38 137.68,399.52 138.18,398.69 138.68,397.91 139.18,397.18 139.68,396.52 140.18,395.93 140.68,395.42 141.18,394.99 141.68,394.65 142.18,394.4 142.68,394.25 143.18,394.2 143.68,394.25 144.18,394.42 144.68,394.69 145.18,395.07 145.68,395.55 146.18,396.12 146.68,396.78 147.18,397.51 147.68,398.32 148.18,399.18 148.68,400.09 149.18,401.04 149.68,402.02 150.18,403.01 150.68,404 151.18,405 151.68,405.98 152.18,406.94 152.68,407.87 153.18,408.77 153.68,409.64 154.18,410.46 154.68,411.23 155.18,411.96 155.68,412.63 156.18,413.26 156.68,413.84 157.18,414.36 157.68,414.84 158.18,415.28 158.68,415.67 159.18,416.01 159.68,416.32 160.18,416.6 160.68,416.83 161.18,417.04 161.68,417.23 162.18,417.38 162.68,417.52 163.18,417.63 163.68,417.73 164.18,417.81 164.68,417.88 165.18,417.94 165.68,417.99 166.18,418.03 166.68,418.06 167.18,418.09 167.68,418.11" fill="none" stroke="#26a02a" stroke-width="1.4" stroke-linejoin="round"/>
</g>
<path d="M26,321.1 H237.3 V418.2" fill="none" stroke="#222" stroke-width="1.35"/>
<path d="M26,321.1 V418.2 H237.3" fill="none" stroke="#111" stroke-width="1.4"/>
<line x1="22.4" y1="418.2" x2="26" y2="418.2" stroke="#222" stroke-width="1"/>
<line x1="24.4" y1="410.45" x2="26" y2="410.45" stroke="#222" stroke-width="0.9"/>
<line x1="24.4" y1="402.7" x2="26" y2="402.7" stroke="#222" stroke-width="0.9"/>
<line x1="24.4" y1="394.95" x2="26" y2="394.95" stroke="#222" stroke-width="0.9"/>
<line x1="22.4" y1="387.2" x2="26" y2="387.2" stroke="#222" stroke-width="1"/>
<line x1="24.4" y1="379.45" x2="26" y2="379.45" stroke="#222" stroke-width="0.9"/>
<line x1="24.4" y1="371.7" x2="26" y2="371.7" stroke="#222" stroke-width="0.9"/>
<line x1="24.4" y1="363.95" x2="26" y2="363.95" stroke="#222" stroke-width="0.9"/>
<line x1="22.4" y1="356.2" x2="26" y2="356.2" stroke="#222" stroke-width="1"/>
<line x1="24.4" y1="348.45" x2="26" y2="348.45" stroke="#222" stroke-width="0.9"/>
<line x1="24.4" y1="340.7" x2="26" y2="340.7" stroke="#222" stroke-width="0.9"/>
<line x1="24.4" y1="332.95" x2="26" y2="332.95" stroke="#222" stroke-width="0.9"/>
<line x1="22.4" y1="325.2" x2="26" y2="325.2" stroke="#222" stroke-width="1"/>
<text x="19.1" y="420.6" font-size="6.3" text-anchor="end" fill="#222">0</text>
<text x="19.1" y="389.6" font-size="6.3" text-anchor="end" fill="#222">100</text>
<text x="19.1" y="358.6" font-size="6.3" text-anchor="end" fill="#222">200</text>
<text x="19.1" y="327.6" font-size="6.3" text-anchor="end" fill="#222">300</text>
<line x1="26.2" y1="418.2" x2="26.2" y2="421.6" stroke="#222" stroke-width="1"/>
<text x="26.2" y="428" font-size="6.3" text-anchor="middle" fill="#222">0</text>
<line x1="36.53" y1="418.2" x2="36.53" y2="419.8" stroke="#222" stroke-width="0.9"/>
<line x1="46.86" y1="418.2" x2="46.86" y2="419.8" stroke="#222" stroke-width="0.9"/>
<line x1="57.19" y1="418.2" x2="57.19" y2="419.8" stroke="#222" stroke-width="0.9"/>
<line x1="67.52" y1="418.2" x2="67.52" y2="421.6" stroke="#222" stroke-width="1"/>
<text x="67.52" y="428" font-size="6.3" text-anchor="middle" fill="#222">200</text>
<line x1="77.85" y1="418.2" x2="77.85" y2="419.8" stroke="#222" stroke-width="0.9"/>
<line x1="88.18" y1="418.2" x2="88.18" y2="419.8" stroke="#222" stroke-width="0.9"/>
<line x1="98.51" y1="418.2" x2="98.51" y2="419.8" stroke="#222" stroke-width="0.9"/>
<line x1="108.84" y1="418.2" x2="108.84" y2="421.6" stroke="#222" stroke-width="1"/>
<text x="108.84" y="428" font-size="6.3" text-anchor="middle" fill="#222">400</text>
<line x1="119.17" y1="418.2" x2="119.17" y2="419.8" stroke="#222" stroke-width="0.9"/>
<line x1="129.5" y1="418.2" x2="129.5" y2="419.8" stroke="#222" stroke-width="0.9"/>
<line x1="139.83" y1="418.2" x2="139.83" y2="419.8" stroke="#222" stroke-width="0.9"/>
<line x1="150.16" y1="418.2" x2="150.16" y2="421.6" stroke="#222" stroke-width="1"/>
<text x="150.16" y="428" font-size="6.3" text-anchor="middle" fill="#222">600</text>
<line x1="160.49" y1="418.2" x2="160.49" y2="419.8" stroke="#222" stroke-width="0.9"/>
<line x1="170.82" y1="418.2" x2="170.82" y2="419.8" stroke="#222" stroke-width="0.9"/>
<line x1="181.15" y1="418.2" x2="181.15" y2="419.8" stroke="#222" stroke-width="0.9"/>
<line x1="191.48" y1="418.2" x2="191.48" y2="421.6" stroke="#222" stroke-width="1"/>
<text x="191.48" y="428" font-size="6.3" text-anchor="middle" fill="#222">800</text>
<line x1="201.81" y1="418.2" x2="201.81" y2="419.8" stroke="#222" stroke-width="0.9"/>
<line x1="212.14" y1="418.2" x2="212.14" y2="419.8" stroke="#222" stroke-width="0.9"/>
<line x1="222.47" y1="418.2" x2="222.47" y2="419.8" stroke="#222" stroke-width="0.9"/>
<line x1="232.8" y1="418.2" x2="232.8" y2="421.6" stroke="#222" stroke-width="1"/>
<text x="232.8" y="428" font-size="6.3" text-anchor="middle" fill="#222">1000</text>
<text x="163.5" y="332.7" font-size="8" textLength="49.6" lengthAdjust="spacingAndGlyphs" fill="#111" stroke="#111" stroke-width="0.18" xml:space="preserve" style="white-space:pre">G0/G1: 29.0%</text>
<text x="181" y="341.9" font-size="8" textLength="32.1" lengthAdjust="spacingAndGlyphs" fill="#111" stroke="#111" stroke-width="0.18" xml:space="preserve" style="white-space:pre">S: 48.4%</text>
<text x="165.6" y="351.5" font-size="8" textLength="47.5" lengthAdjust="spacingAndGlyphs" fill="#111" stroke="#111" stroke-width="0.18" xml:space="preserve" style="white-space:pre">G2/M:  23.1%</text>
<text x="55.8" y="437.2" font-size="8.8" font-weight="bold" textLength="136.1" lengthAdjust="spacingAndGlyphs" fill="#000" stroke="#000" stroke-width="0.2" xml:space="preserve" style="white-space:pre">K562 + pcDNA3-c-Myb + miR-control</text>
<text transform="translate(5.1,372.3) rotate(-90)" font-size="6.2" text-anchor="middle" fill="#222"><tspan font-weight="bold">#</tspan> Cells</text>
<clipPath id="clip6"><rect x="279.2" y="321.7" width="212.2" height="95"/></clipPath>
<g clip-path="url(#clip6)">
<polygon points="279,416.7 279,416.6 322,416.6 324.4,416.5 327.9,414.8 331.5,411.8 333.8,405.9 336.2,391.7 337.5,378 338.6,368 338.9,359.6 339.3,349.3 340.3,345.9 341.4,339.1 342.3,327.1 342.8,339.1 344.2,341.4 344.8,356.2 346,365.3 346.3,368 347.1,372 348.1,382.2 349.8,385.8 351.6,384.6 352.2,392.9 353.8,396.8 355.6,397.4 356.4,399.8 357.3,393.8 358.5,395.6 359.7,396.8 360.9,398.6 362.1,400.9 363.2,398 364.4,402.7 365.6,399.2 367.4,399.2 369.2,403.9 370.3,397.4 372.1,398 373.9,399.8 375.7,400.3 377.4,396.2 379.2,397.4 380.4,400.9 382.4,400 383.6,397.6 384.7,399.4 385.9,397.6 387.7,400.6 389.5,397.3 391.2,399.4 393,400.6 394.8,396.4 396,398.2 397.2,396.7 398.3,393.5 399.3,400.3 400.6,401.6 401.8,403.5 403.1,406 405,408.6 406.3,411.8 408.2,413.1 410.1,414.3 412,415 414.6,415.6 417.1,416.3 420,416.6 491,416.6 491,416.7" fill="#c3c1c3" stroke="none"/>
<polyline points="279,416.6 322,416.6 324.4,416.5 327.9,414.8 331.5,411.8 333.8,405.9 336.2,391.7 337.5,378 338.6,368 338.9,359.6 339.3,349.3 340.3,345.9 341.4,339.1 342.3,327.1 342.8,339.1 344.2,341.4 344.8,356.2 346,365.3 346.3,368 347.1,372 348.1,382.2 349.8,385.8 351.6,384.6 352.2,392.9 353.8,396.8 355.6,397.4 356.4,399.8 357.3,393.8 358.5,395.6 359.7,396.8 360.9,398.6 362.1,400.9 363.2,398 364.4,402.7 365.6,399.2 367.4,399.2 369.2,403.9 370.3,397.4 372.1,398 373.9,399.8 375.7,400.3 377.4,396.2 379.2,397.4 380.4,400.9 382.4,400 383.6,397.6 384.7,399.4 385.9,397.6 387.7,400.6 389.5,397.3 391.2,399.4 393,400.6 394.8,396.4 396,398.2 397.2,396.7 398.3,393.5 399.3,400.3 400.6,401.6 401.8,403.5 403.1,406 405,408.6 406.3,411.8 408.2,413.1 410.1,414.3 412,415 414.6,415.6 417.1,416.3 420,416.6 491,416.6" fill="none" stroke="#111" stroke-width="1.75" stroke-linejoin="round"/>
<polyline points="330.82,416.38 331.12,416.3 331.42,416.19 331.72,416.05 332.02,415.87 332.32,415.64 332.62,415.34 332.92,414.96 333.22,414.49 333.52,413.91 333.82,413.2 334.12,412.33 334.42,411.29 334.72,410.06 335.02,408.61 335.32,406.93 335.62,404.99 335.92,402.78 336.22,400.31 336.52,397.55 336.82,394.53 337.12,391.25 337.42,387.74 337.72,384.02 338.02,380.16 338.32,376.19 338.62,372.17 338.92,368.19 339.22,364.31 339.52,360.62 339.82,357.19 340.12,354.1 340.42,351.43 340.72,349.23 341.02,347.58 341.32,346.5 341.62,346.02 341.92,346.16 342.22,346.87 342.52,348.15 342.82,349.95 343.12,352.24 343.42,354.97 343.72,358.06 344.02,361.46 344.32,365.09 344.62,368.87 344.92,372.74 345.22,376.63 345.52,380.47 345.82,384.22 346.12,387.81 346.42,391.22 346.72,394.4 347.02,397.35 347.32,400.04 347.62,402.48 347.92,404.65 348.22,406.57 348.52,408.26 348.82,409.71 349.12,410.96 349.42,412.02 349.72,412.92 350.02,413.66 350.32,414.27 350.62,414.77 350.92,415.18 351.22,415.5 351.52,415.76 351.82,415.96 352.12,416.12 352.42,416.24 352.72,416.33" fill="none" stroke="#9fe29f" stroke-width="2.6500000000000004" stroke-opacity="0.55" stroke-linejoin="round"/>
<polyline points="330.82,416.38 331.12,416.3 331.42,416.19 331.72,416.05 332.02,415.87 332.32,415.64 332.62,415.34 332.92,414.96 333.22,414.49 333.52,413.91 333.82,413.2 334.12,412.33 334.42,411.29 334.72,410.06 335.02,408.61 335.32,406.93 335.62,404.99 335.92,402.78 336.22,400.31 336.52,397.55 336.82,394.53 337.12,391.25 337.42,387.74 337.72,384.02 338.02,380.16 338.32,376.19 338.62,372.17 338.92,368.19 339.22,364.31 339.52,360.62 339.82,357.19 340.12,354.1 340.42,351.43 340.72,349.23 341.02,347.58 341.32,346.5 341.62,346.02 341.92,346.16 342.22,346.87 342.52,348.15 342.82,349.95 343.12,352.24 343.42,354.97 343.72,358.06 344.02,361.46 344.32,365.09 344.62,368.87 344.92,372.74 345.22,376.63 345.52,380.47 345.82,384.22 346.12,387.81 346.42,391.22 346.72,394.4 347.02,397.35 347.32,400.04 347.62,402.48 347.92,404.65 348.22,406.57 348.52,408.26 348.82,409.71 349.12,410.96 349.42,412.02 349.72,412.92 350.02,413.66 350.32,414.27 350.62,414.77 350.92,415.18 351.22,415.5 351.52,415.76 351.82,415.96 352.12,416.12 352.42,416.24 352.72,416.33" fill="none" stroke="#26a02a" stroke-width="1.4" stroke-linejoin="round"/>
<polyline points="331.5,416.6 331.76,416.44 332.1,416.25 332.5,416.03 332.95,415.77 333.44,415.46 333.95,415.1 334.48,414.68 335,414.2 335.53,413.63 336.08,412.97 336.66,412.24 337.25,411.47 337.86,410.67 338.49,409.86 339.14,409.06 339.8,408.3 340.49,407.54 341.23,406.76 341.98,405.96 342.76,405.17 343.53,404.4 344.28,403.67 345.01,403 345.7,402.4 346.35,401.88 346.99,401.41 347.6,401 348.19,400.63 348.77,400.3 349.33,399.98 349.87,399.69 350.4,399.4 350.9,399.12 351.37,398.86 351.82,398.62 352.25,398.4 352.68,398.21 353.1,398.04 353.54,397.9 354,397.8 354.46,397.73 354.91,397.71 355.35,397.71 355.81,397.74 356.28,397.79 356.78,397.86 357.31,397.93 357.9,398 358.54,398.08 359.23,398.17 359.96,398.27 360.72,398.38 361.49,398.5 362.27,398.63 363.04,398.76 363.8,398.9 364.55,399.04 365.3,399.2 366.05,399.36 366.8,399.52 367.55,399.69 368.3,399.87 369.05,400.03 369.8,400.2 370.55,400.37 371.32,400.53 372.09,400.71 372.86,400.88 373.61,401.04 374.34,401.2 375.04,401.36 375.7,401.5 376.3,401.62 376.85,401.73 377.36,401.82 377.85,401.91 378.34,402.01 378.85,402.11 379.4,402.24 380,402.4 380.66,402.59 381.36,402.79 382.1,403.01 382.85,403.25 383.62,403.5 384.39,403.76 385.15,404.03 385.9,404.3 386.64,404.58 387.37,404.87 388.1,405.17 388.83,405.48 389.57,405.8 390.3,406.13 391.05,406.46 391.8,406.8 392.58,407.16 393.39,407.54 394.21,407.94 395.03,408.34 395.84,408.74 396.61,409.12 397.34,409.48 398,409.8 398.59,410.08 399.12,410.33 399.6,410.56 400.04,410.77 400.47,410.97 400.9,411.17 401.34,411.38 401.8,411.6 402.27,411.83 402.74,412.07 403.2,412.31 403.67,412.54 404.15,412.78 404.64,413.02 405.15,413.26 405.7,413.5 406.29,413.75 406.92,414 407.58,414.26 408.26,414.52 408.93,414.77 409.59,415 410.22,415.22 410.8,415.4 411.34,415.56 411.85,415.69 412.34,415.8 412.81,415.89 413.26,415.98 413.71,416.05 414.15,416.13 414.6,416.2 415.07,416.27 415.56,416.34 416.05,416.4 416.54,416.45 416.99,416.5 417.4,416.54 417.74,416.57 418,416.6" fill="none" stroke="#9fe29f" stroke-width="2.6500000000000004" stroke-opacity="0.55" stroke-linejoin="round"/>
<polyline points="331.5,416.6 331.76,416.44 332.1,416.25 332.5,416.03 332.95,415.77 333.44,415.46 333.95,415.1 334.48,414.68 335,414.2 335.53,413.63 336.08,412.97 336.66,412.24 337.25,411.47 337.86,410.67 338.49,409.86 339.14,409.06 339.8,408.3 340.49,407.54 341.23,406.76 341.98,405.96 342.76,405.17 343.53,404.4 344.28,403.67 345.01,403 345.7,402.4 346.35,401.88 346.99,401.41 347.6,401 348.19,400.63 348.77,400.3 349.33,399.98 349.87,399.69 350.4,399.4 350.9,399.12 351.37,398.86 351.82,398.62 352.25,398.4 352.68,398.21 353.1,398.04 353.54,397.9 354,397.8 354.46,397.73 354.91,397.71 355.35,397.71 355.81,397.74 356.28,397.79 356.78,397.86 357.31,397.93 357.9,398 358.54,398.08 359.23,398.17 359.96,398.27 360.72,398.38 361.49,398.5 362.27,398.63 363.04,398.76 363.8,398.9 364.55,399.04 365.3,399.2 366.05,399.36 366.8,399.52 367.55,399.69 368.3,399.87 369.05,400.03 369.8,400.2 370.55,400.37 371.32,400.53 372.09,400.71 372.86,400.88 373.61,401.04 374.34,401.2 375.04,401.36 375.7,401.5 376.3,401.62 376.85,401.73 377.36,401.82 377.85,401.91 378.34,402.01 378.85,402.11 379.4,402.24 380,402.4 380.66,402.59 381.36,402.79 382.1,403.01 382.85,403.25 383.62,403.5 384.39,403.76 385.15,404.03 385.9,404.3 386.64,404.58 387.37,404.87 388.1,405.17 388.83,405.48 389.57,405.8 390.3,406.13 391.05,406.46 391.8,406.8 392.58,407.16 393.39,407.54 394.21,407.94 395.03,408.34 395.84,408.74 396.61,409.12 397.34,409.48 398,409.8 398.59,410.08 399.12,410.33 399.6,410.56 400.04,410.77 400.47,410.97 400.9,411.17 401.34,411.38 401.8,411.6 402.27,411.83 402.74,412.07 403.2,412.31 403.67,412.54 404.15,412.78 404.64,413.02 405.15,413.26 405.7,413.5 406.29,413.75 406.92,414 407.58,414.26 408.26,414.52 408.93,414.77 409.59,415 410.22,415.22 410.8,415.4 411.34,415.56 411.85,415.69 412.34,415.8 412.81,415.89 413.26,415.98 413.71,416.05 414.15,416.13 414.6,416.2 415.07,416.27 415.56,416.34 416.05,416.4 416.54,416.45 416.99,416.5 417.4,416.54 417.74,416.57 418,416.6" fill="none" stroke="#26a02a" stroke-width="1.4" stroke-linejoin="round"/>
<polyline points="372.8,416.56 373.3,416.55 373.8,416.54 374.3,416.53 374.8,416.51 375.3,416.5 375.8,416.47 376.3,416.45 376.8,416.42 377.3,416.38 377.8,416.34 378.3,416.29 378.8,416.23 379.3,416.17 379.8,416.09 380.3,416.01 380.8,415.91 381.3,415.8 381.8,415.68 382.3,415.54 382.8,415.38 383.3,415.21 383.8,415.02 384.3,414.81 384.8,414.58 385.3,414.33 385.8,414.05 386.3,413.76 386.8,413.45 387.3,413.11 387.8,412.75 388.3,412.38 388.8,411.98 389.3,411.57 389.8,411.14 390.3,410.7 390.8,410.25 391.3,409.79 391.8,409.33 392.3,408.86 392.8,408.4 393.3,407.94 393.8,407.49 394.3,407.06 394.8,406.64 395.3,406.25 395.8,405.88 396.3,405.55 396.8,405.25 397.3,404.98 397.8,404.76 398.3,404.57 398.8,404.44 399.3,404.35 399.8,404.3 400.3,404.31 400.8,404.4 401.3,404.56 401.8,404.79 402.3,405.09 402.8,405.46 403.3,405.88 403.8,406.35 404.3,406.86 404.8,407.4 405.3,407.97 405.8,408.55 406.3,409.14 406.8,409.73 407.3,410.31 407.8,410.88 408.3,411.44 408.8,411.96 409.3,412.46 409.8,412.93 410.3,413.37 410.8,413.77 411.3,414.14 411.8,414.47 412.3,414.77 412.8,415.04 413.3,415.28 413.8,415.48 414.3,415.66 414.8,415.82 415.3,415.96 415.8,416.07 416.3,416.17 416.8,416.25 417.3,416.32 417.8,416.37 418.3,416.42 418.8,416.46 419.3,416.49 419.8,416.51 420.3,416.53 420.8,416.55 421.3,416.56" fill="none" stroke="#9fe29f" stroke-width="2.6500000000000004" stroke-opacity="0.55" stroke-linejoin="round"/>
<polyline points="372.8,416.56 373.3,416.55 373.8,416.54 374.3,416.53 374.8,416.51 375.3,416.5 375.8,416.47 376.3,416.45 376.8,416.42 377.3,416.38 377.8,416.34 378.3,416.29 378.8,416.23 379.3,416.17 379.8,416.09 380.3,416.01 380.8,415.91 381.3,415.8 381.8,415.68 382.3,415.54 382.8,415.38 383.3,415.21 383.8,415.02 384.3,414.81 384.8,414.58 385.3,414.33 385.8,414.05 386.3,413.76 386.8,413.45 387.3,413.11 387.8,412.75 388.3,412.38 388.8,411.98 389.3,411.57 389.8,411.14 390.3,410.7 390.8,410.25 391.3,409.79 391.8,409.33 392.3,408.86 392.8,408.4 393.3,407.94 393.8,407.49 394.3,407.06 394.8,406.64 395.3,406.25 395.8,405.88 396.3,405.55 396.8,405.25 397.3,404.98 397.8,404.76 398.3,404.57 398.8,404.44 399.3,404.35 399.8,404.3 400.3,404.31 400.8,404.4 401.3,404.56 401.8,404.79 402.3,405.09 402.8,405.46 403.3,405.88 403.8,406.35 404.3,406.86 404.8,407.4 405.3,407.97 405.8,408.55 406.3,409.14 406.8,409.73 407.3,410.31 407.8,410.88 408.3,411.44 408.8,411.96 409.3,412.46 409.8,412.93 410.3,413.37 410.8,413.77 411.3,414.14 411.8,414.47 412.3,414.77 412.8,415.04 413.3,415.28 413.8,415.48 414.3,415.66 414.8,415.82 415.3,415.96 415.8,416.07 416.3,416.17 416.8,416.25 417.3,416.32 417.8,416.37 418.3,416.42 418.8,416.46 419.3,416.49 419.8,416.51 420.3,416.53 420.8,416.55 421.3,416.56" fill="none" stroke="#26a02a" stroke-width="1.4" stroke-linejoin="round"/>
</g>
<path d="M279.2,321.7 H491.4 V416.7" fill="none" stroke="#222" stroke-width="1.35"/>
<path d="M279.2,321.7 V416.7 H491.4" fill="none" stroke="#111" stroke-width="1.4"/>
<line x1="275.6" y1="416.6" x2="279.2" y2="416.6" stroke="#222" stroke-width="1"/>
<line x1="277.6" y1="409.43" x2="279.2" y2="409.43" stroke="#222" stroke-width="0.9"/>
<line x1="277.6" y1="402.25" x2="279.2" y2="402.25" stroke="#222" stroke-width="0.9"/>
<line x1="277.6" y1="395.08" x2="279.2" y2="395.08" stroke="#222" stroke-width="0.9"/>
<line x1="275.6" y1="387.9" x2="279.2" y2="387.9" stroke="#222" stroke-width="1"/>
<line x1="277.6" y1="380.73" x2="279.2" y2="380.73" stroke="#222" stroke-width="0.9"/>
<line x1="277.6" y1="373.55" x2="279.2" y2="373.55" stroke="#222" stroke-width="0.9"/>
<line x1="277.6" y1="366.38" x2="279.2" y2="366.38" stroke="#222" stroke-width="0.9"/>
<line x1="275.6" y1="359.2" x2="279.2" y2="359.2" stroke="#222" stroke-width="1"/>
<line x1="277.6" y1="352.03" x2="279.2" y2="352.03" stroke="#222" stroke-width="0.9"/>
<line x1="277.6" y1="344.85" x2="279.2" y2="344.85" stroke="#222" stroke-width="0.9"/>
<line x1="277.6" y1="337.68" x2="279.2" y2="337.68" stroke="#222" stroke-width="0.9"/>
<line x1="275.6" y1="330.5" x2="279.2" y2="330.5" stroke="#222" stroke-width="1"/>
<line x1="277.6" y1="323.33" x2="279.2" y2="323.33" stroke="#222" stroke-width="0.9"/>
<text x="272.3" y="419" font-size="6.2" text-anchor="end" fill="#222">0</text>
<text x="272.3" y="390.3" font-size="6.2" text-anchor="end" fill="#222">100</text>
<text x="272.3" y="361.6" font-size="6.2" text-anchor="end" fill="#222">200</text>
<text x="272.3" y="332.9" font-size="6.2" text-anchor="end" fill="#222">300</text>
<line x1="279.1" y1="416.7" x2="279.1" y2="420.1" stroke="#222" stroke-width="1"/>
<text x="279.1" y="427" font-size="6.2" text-anchor="middle" fill="#222">0</text>
<line x1="289.5" y1="416.7" x2="289.5" y2="418.3" stroke="#222" stroke-width="0.9"/>
<line x1="299.9" y1="416.7" x2="299.9" y2="418.3" stroke="#222" stroke-width="0.9"/>
<line x1="310.3" y1="416.7" x2="310.3" y2="418.3" stroke="#222" stroke-width="0.9"/>
<line x1="320.7" y1="416.7" x2="320.7" y2="420.1" stroke="#222" stroke-width="1"/>
<text x="320.7" y="427" font-size="6.2" text-anchor="middle" fill="#222">200</text>
<line x1="331.1" y1="416.7" x2="331.1" y2="418.3" stroke="#222" stroke-width="0.9"/>
<line x1="341.5" y1="416.7" x2="341.5" y2="418.3" stroke="#222" stroke-width="0.9"/>
<line x1="351.9" y1="416.7" x2="351.9" y2="418.3" stroke="#222" stroke-width="0.9"/>
<line x1="362.3" y1="416.7" x2="362.3" y2="420.1" stroke="#222" stroke-width="1"/>
<text x="362.3" y="427" font-size="6.2" text-anchor="middle" fill="#222">400</text>
<line x1="372.7" y1="416.7" x2="372.7" y2="418.3" stroke="#222" stroke-width="0.9"/>
<line x1="383.1" y1="416.7" x2="383.1" y2="418.3" stroke="#222" stroke-width="0.9"/>
<line x1="393.5" y1="416.7" x2="393.5" y2="418.3" stroke="#222" stroke-width="0.9"/>
<line x1="403.9" y1="416.7" x2="403.9" y2="420.1" stroke="#222" stroke-width="1"/>
<text x="403.9" y="427" font-size="6.2" text-anchor="middle" fill="#222">600</text>
<line x1="414.3" y1="416.7" x2="414.3" y2="418.3" stroke="#222" stroke-width="0.9"/>
<line x1="424.7" y1="416.7" x2="424.7" y2="418.3" stroke="#222" stroke-width="0.9"/>
<line x1="435.1" y1="416.7" x2="435.1" y2="418.3" stroke="#222" stroke-width="0.9"/>
<line x1="445.5" y1="416.7" x2="445.5" y2="420.1" stroke="#222" stroke-width="1"/>
<text x="445.5" y="427" font-size="6.2" text-anchor="middle" fill="#222">800</text>
<line x1="455.9" y1="416.7" x2="455.9" y2="418.3" stroke="#222" stroke-width="0.9"/>
<line x1="466.3" y1="416.7" x2="466.3" y2="418.3" stroke="#222" stroke-width="0.9"/>
<line x1="476.7" y1="416.7" x2="476.7" y2="418.3" stroke="#222" stroke-width="0.9"/>
<line x1="487.1" y1="416.7" x2="487.1" y2="420.1" stroke="#222" stroke-width="1"/>
<text x="487.1" y="427" font-size="6.2" text-anchor="middle" fill="#222">1000</text>
<text x="416.7" y="332.7" font-size="8" textLength="49.3" lengthAdjust="spacingAndGlyphs" fill="#111" stroke="#111" stroke-width="0.18" xml:space="preserve" style="white-space:pre">G0/G1: 34.8%</text>
<text x="433.7" y="341.9" font-size="8" textLength="32.3" lengthAdjust="spacingAndGlyphs" fill="#111" stroke="#111" stroke-width="0.18" xml:space="preserve" style="white-space:pre">S: 51.2%</text>
<text x="418.7" y="351.5" font-size="8" textLength="45.3" lengthAdjust="spacingAndGlyphs" fill="#111" stroke="#111" stroke-width="0.18" xml:space="preserve" style="white-space:pre">G2/M: 12.4%</text>
<text x="313.8" y="437.2" font-size="8.8" font-weight="bold" textLength="121.8" lengthAdjust="spacingAndGlyphs" fill="#000" stroke="#000" stroke-width="0.2" xml:space="preserve" style="white-space:pre">K562 + pcDNA3-c-Myb + miR-15a</text>
<text transform="translate(256.9,372.5) rotate(-90)" font-size="6.2" text-anchor="middle" fill="#222"><tspan font-weight="bold">#</tspan> Cells</text>
<text transform="translate(1.0,8.7) scale(1.03,1)" font-size="11.2" font-weight="bold" fill="#000" stroke="#000" stroke-width="0.3">A</text>
<text x="0.4" y="312.4" font-size="10.8" font-weight="bold" fill="#000" stroke="#000" stroke-width="0.3">B</text>
</svg>
</body></html>
